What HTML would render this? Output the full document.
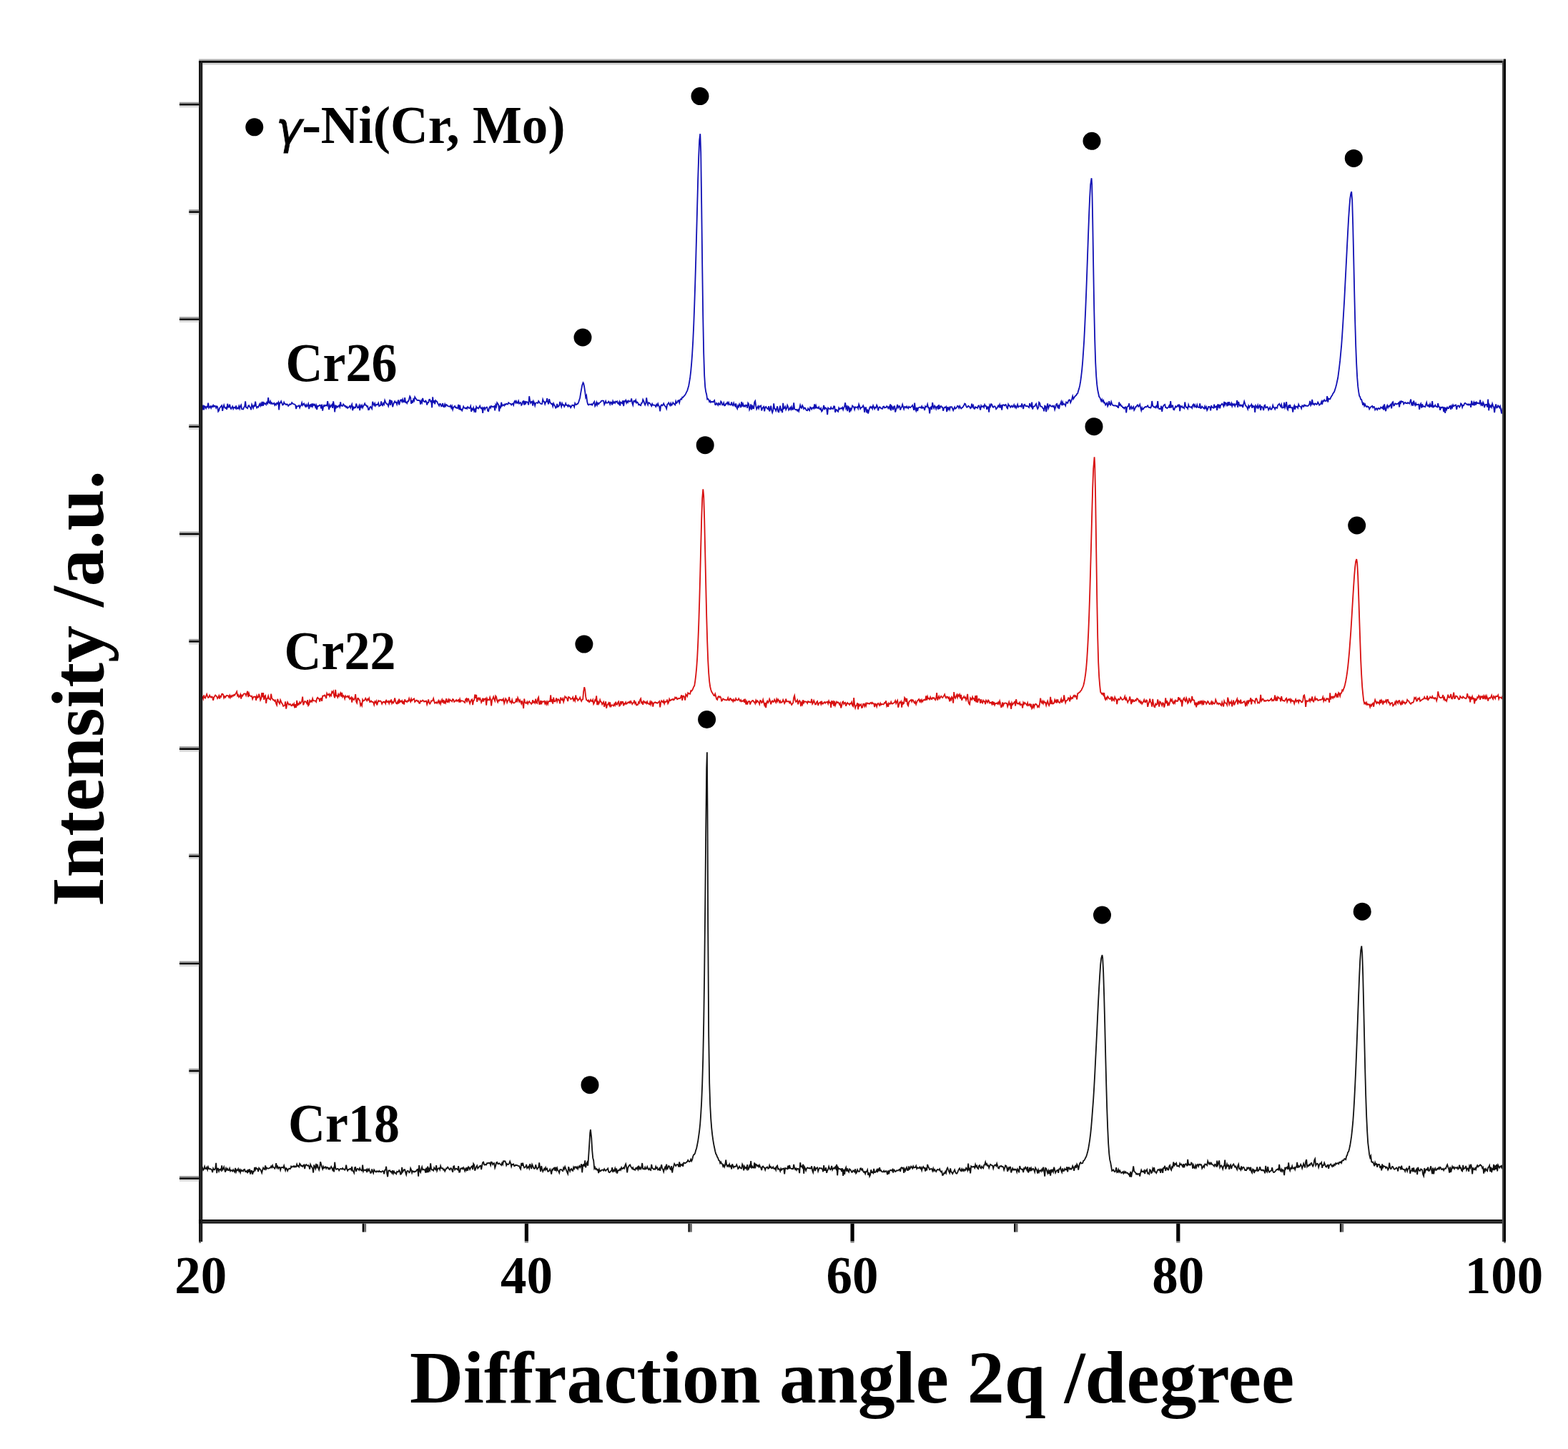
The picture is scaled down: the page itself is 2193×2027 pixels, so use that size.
<!DOCTYPE html><html><head><meta charset="utf-8"><title>XRD patterns</title><style>html,body{margin:0;padding:0;background:#fff;}svg{display:block}</style></head><body>
<svg width="2193" height="2027" viewBox="0 0 2193 2027">
<rect width="2193" height="2027" fill="#fff"/>
<path d="M282.2,569.1 L283.2,573.4 284.2,566.7 285.2,573.4 286.2,568.2 287.2,568.8 288.2,571.1 289.2,568.7 290.2,569.3 291.2,563.6 292.2,570.5 293.2,569.3 294.2,568.4 295.2,570.9 296.2,568.3 297.2,569.1 298.2,566.8 299.2,568.9 300.2,567.6 301.2,568.1 302.2,570.7 303.2,568.3 304.2,569.3 305.2,575.6 306.2,574.3 307.2,570.6 308.2,569.6 309.2,568.3 310.2,567.3 311.2,574.9 312.2,569.6 313.2,566.7 314.2,570.1 315.2,571.1 316.2,570.1 317.2,573.0 318.2,564.8 319.2,569.7 320.2,569.5 321.2,565.7 322.2,570.3 323.2,572.0 324.2,570.1 325.2,568.5 326.2,571.9 327.2,569.8 328.2,569.8 329.2,571.1 330.2,567.5 331.2,571.8 332.2,570.7 333.2,571.5 334.2,568.0 335.2,571.7 336.2,568.1 337.2,566.5 338.2,572.3 339.2,572.4 340.2,572.5 341.2,569.7 342.2,568.5 343.2,561.4 344.2,570.0 345.2,570.3 346.2,571.2 347.2,567.8 348.2,567.1 349.2,569.2 350.2,570.2 351.2,573.3 352.2,565.8 353.2,567.9 354.2,570.8 355.2,567.4 356.2,567.9 357.2,561.6 358.2,568.0 359.2,570.6 360.2,569.0 361.2,569.6 362.2,567.4 363.2,565.1 364.2,567.8 365.2,564.5 366.2,568.1 367.2,561.9 368.2,567.7 369.2,563.5 370.2,564.9 371.2,564.4 372.2,566.1 373.2,563.0 374.2,564.4 375.2,556.2 376.2,563.3 377.2,564.1 378.2,561.3 379.2,564.7 380.2,563.6 381.2,565.2 382.2,564.8 383.2,563.9 384.2,566.8 385.2,564.9 386.2,566.3 387.2,563.8 388.2,564.8 389.2,562.9 390.2,573.4 391.2,563.4 392.2,563.6 393.2,561.3 394.2,563.8 395.2,566.5 396.2,566.1 397.2,562.7 398.2,564.8 399.2,565.1 400.2,566.2 401.2,565.4 402.2,566.0 403.2,567.9 404.2,566.9 405.2,565.3 406.2,565.7 407.2,565.4 408.2,563.2 409.2,564.4 410.2,565.1 411.2,565.4 412.2,565.5 413.2,566.8 414.2,572.0 415.2,568.1 416.2,568.3 417.2,568.1 418.2,567.2 419.2,570.3 420.2,567.8 421.2,567.0 422.2,563.4 423.2,567.0 424.2,565.4 425.2,564.5 426.2,567.1 427.2,568.7 428.2,566.1 429.2,568.6 430.2,567.2 431.2,564.8 432.2,572.2 433.2,566.8 434.2,566.2 435.2,569.5 436.2,564.6 437.2,568.4 438.2,565.4 439.2,566.8 440.2,565.8 441.2,569.5 442.2,566.9 443.2,573.0 444.2,567.9 445.2,568.3 446.2,567.5 447.2,566.5 448.2,567.0 449.2,571.5 450.2,565.7 451.2,574.6 452.2,568.9 453.2,566.9 454.2,568.2 455.2,567.0 456.2,567.0 457.2,567.6 458.2,561.1 459.2,567.6 460.2,573.1 461.2,566.6 462.2,569.0 463.2,567.4 464.2,566.0 465.2,570.9 466.2,561.3 467.2,566.8 468.2,576.4 469.2,566.5 470.2,570.1 471.2,568.3 472.2,569.6 473.2,568.4 474.2,567.2 475.2,569.3 476.2,562.3 477.2,567.7 478.2,567.4 479.2,567.9 480.2,565.4 481.2,566.5 482.2,568.4 483.2,567.8 484.2,570.0 485.2,568.9 486.2,571.0 487.2,569.9 488.2,569.2 489.2,567.8 490.2,570.6 491.2,567.8 492.2,565.6 493.2,574.2 494.2,569.5 495.2,571.0 496.2,569.7 497.2,570.2 498.2,564.6 499.2,567.9 500.2,570.6 501.2,570.1 502.2,567.5 503.2,574.1 504.2,567.3 505.2,569.5 506.2,567.0 507.2,570.3 508.2,568.0 509.2,566.5 510.2,564.4 511.2,566.8 512.2,566.9 513.2,568.8 514.2,568.3 515.2,573.1 516.2,572.9 517.2,569.9 518.2,568.9 519.2,570.3 520.2,571.9 521.2,561.9 522.2,565.0 523.2,567.0 524.2,564.3 525.2,567.8 526.2,566.1 527.2,566.0 528.2,566.1 529.2,563.9 530.2,568.2 531.2,567.5 532.2,567.2 533.2,561.5 534.2,566.2 535.2,567.3 536.2,564.1 537.2,565.7 538.2,560.0 539.2,562.6 540.2,564.3 541.2,565.4 542.2,565.4 543.2,568.2 544.2,564.3 545.2,559.0 546.2,566.9 547.2,560.7 548.2,561.3 549.2,569.3 550.2,565.5 551.2,563.2 552.2,561.3 553.2,563.1 554.2,562.7 555.2,565.9 556.2,562.8 557.2,559.5 558.2,566.4 559.2,563.1 560.2,559.6 561.2,559.4 562.2,561.9 563.2,558.7 564.2,562.3 565.2,562.0 566.2,556.1 567.2,563.0 568.2,562.6 569.2,564.2 570.2,561.4 571.2,561.4 572.2,558.2 573.2,554.3 574.2,556.1 575.2,564.8 576.2,560.3 577.2,563.7 578.2,558.6 579.2,560.5 580.2,555.3 581.2,557.1 582.2,558.2 583.2,559.8 584.2,560.0 585.2,560.0 586.2,559.9 587.2,560.7 588.2,565.7 589.2,560.6 590.2,563.1 591.2,557.0 592.2,560.9 593.2,561.8 594.2,562.3 595.2,560.6 596.2,561.7 597.2,566.6 598.2,563.2 599.2,563.1 600.2,559.1 601.2,558.9 602.2,561.7 603.2,561.1 604.2,570.3 605.2,555.3 606.2,563.6 607.2,560.3 608.2,565.2 609.2,560.2 610.2,561.2 611.2,561.7 612.2,564.2 613.2,565.9 614.2,567.6 615.2,564.8 616.2,565.1 617.2,568.4 618.2,567.8 619.2,564.1 620.2,568.8 621.2,569.2 622.2,565.4 623.2,568.1 624.2,566.0 625.2,566.6 626.2,568.1 627.2,568.4 628.2,568.5 629.2,568.9 630.2,567.3 631.2,570.7 632.2,568.2 633.2,572.9 634.2,569.8 635.2,569.0 636.2,568.1 637.2,570.3 638.2,570.0 639.2,571.2 640.2,570.8 641.2,565.9 642.2,573.0 643.2,566.6 644.2,572.9 645.2,572.8 646.2,574.5 647.2,571.7 648.2,568.7 649.2,570.7 650.2,570.7 651.2,571.5 652.2,570.4 653.2,571.7 654.2,569.2 655.2,570.2 656.2,571.1 657.2,570.6 658.2,568.2 659.2,576.0 660.2,571.8 661.2,573.0 662.2,570.3 663.2,575.1 664.2,572.8 665.2,577.0 666.2,569.1 667.2,570.8 668.2,570.4 669.2,571.4 670.2,569.6 671.2,567.8 672.2,570.8 673.2,571.5 674.2,570.4 675.2,577.9 676.2,570.5 677.2,569.9 678.2,572.8 679.2,570.7 680.2,569.6 681.2,569.6 682.2,574.8 683.2,575.2 684.2,570.8 685.2,568.9 686.2,570.8 687.2,568.0 688.2,568.6 689.2,569.4 690.2,568.7 691.2,568.2 692.2,574.4 693.2,566.5 694.2,568.9 695.2,563.3 696.2,564.8 697.2,566.2 698.2,575.5 699.2,568.7 700.2,569.9 701.2,562.8 702.2,567.8 703.2,566.6 704.2,566.3 705.2,567.5 706.2,565.4 707.2,566.2 708.2,564.7 709.2,565.3 710.2,565.7 711.2,563.2 712.2,564.1 713.2,564.7 714.2,564.8 715.2,566.4 716.2,565.2 717.2,564.6 718.2,566.7 719.2,562.3 720.2,560.9 721.2,563.4 722.2,561.3 723.2,563.9 724.2,563.9 725.2,561.0 726.2,564.6 727.2,563.7 728.2,563.1 729.2,566.8 730.2,565.7 731.2,561.7 732.2,561.1 733.2,566.5 734.2,560.9 735.2,564.4 736.2,562.1 737.2,562.3 738.2,563.1 739.2,566.5 740.2,554.2 741.2,560.6 742.2,563.8 743.2,562.2 744.2,561.6 745.2,567.5 746.2,561.3 747.2,563.5 748.2,567.4 749.2,563.8 750.2,563.3 751.2,563.4 752.2,564.0 753.2,561.0 754.2,562.6 755.2,563.8 756.2,564.8 757.2,565.1 758.2,565.0 759.2,558.8 760.2,561.5 761.2,562.0 762.2,565.3 763.2,562.4 764.2,561.8 765.2,557.2 766.2,562.6 767.2,565.5 768.2,558.1 769.2,562.4 770.2,563.9 771.2,565.2 772.2,564.8 773.2,568.4 774.2,564.3 775.2,566.5 776.2,568.1 777.2,570.6 778.2,569.7 779.2,564.9 780.2,569.2 781.2,568.4 782.2,567.3 783.2,562.0 784.2,565.6 785.2,568.9 786.2,564.3 787.2,566.7 788.2,566.3 789.2,568.9 790.2,567.0 791.2,564.3 792.2,567.0 793.2,566.7 794.2,568.6 795.2,566.6 796.2,568.4 797.2,567.6 798.2,570.2 799.2,568.5 800.2,566.8 801.2,567.0 802.2,566.9 803.2,569.3 804.2,564.2 805.2,566.0 806.2,566.1 807.2,565.1 808.2,564.7 809.2,562.6 810.2,559.5 811.2,556.2 812.2,549.9 813.2,544.3 814.2,539.0 815.5,535.3 816.2,536.4 817.2,541.2 818.2,547.8 819.2,556.0 820.2,553.6 821.2,561.8 822.2,565.8 823.2,566.6 824.2,565.4 825.2,565.6 826.2,566.0 827.2,565.3 828.2,566.7 829.2,565.1 830.2,563.6 831.2,561.9 832.2,568.1 833.2,566.3 834.2,562.9 835.2,566.7 836.2,563.8 837.2,565.2 838.2,563.9 839.2,562.9 840.2,562.4 841.2,560.6 842.2,560.6 843.2,560.4 844.2,560.8 845.2,565.9 846.2,563.8 847.2,561.1 848.2,563.7 849.2,563.6 850.2,563.4 851.2,561.6 852.2,562.9 853.2,565.6 854.2,562.5 855.2,562.9 856.2,566.4 857.2,561.2 858.2,563.7 859.2,562.4 860.2,563.9 861.2,561.6 862.2,562.3 863.2,561.4 864.2,564.4 865.2,565.1 866.2,562.2 867.2,567.7 868.2,562.6 869.2,563.4 870.2,564.3 871.2,560.3 872.2,568.2 873.2,561.1 874.2,561.6 875.2,559.8 876.2,563.7 877.2,561.2 878.2,562.9 879.2,560.5 880.2,561.5 881.2,561.7 882.2,560.9 883.2,557.5 884.2,563.9 885.2,566.8 886.2,561.2 887.2,560.7 888.2,562.1 889.2,559.6 890.2,563.6 891.2,562.5 892.2,563.4 893.2,566.3 894.2,565.6 895.2,566.7 896.2,567.2 897.2,563.8 898.2,563.6 899.2,558.9 900.2,560.9 901.2,564.1 902.2,566.4 903.2,564.1 904.2,556.4 905.2,563.2 906.2,566.3 907.2,563.1 908.2,563.8 909.2,564.6 910.2,566.3 911.2,568.0 912.2,564.8 913.2,566.8 914.2,566.7 915.2,566.6 916.2,567.3 917.2,568.9 918.2,565.9 919.2,567.5 920.2,564.7 921.2,567.6 922.2,569.0 923.2,575.3 924.2,567.3 925.2,566.3 926.2,567.4 927.2,566.5 928.2,564.4 929.2,566.9 930.2,568.2 931.2,569.1 932.2,571.6 933.2,565.7 934.2,565.0 935.2,563.4 936.2,565.5 937.2,567.1 938.2,564.1 939.2,567.0 940.2,565.7 941.2,563.1 942.2,564.6 943.2,565.3 944.2,566.4 945.2,561.3 946.2,564.0 947.2,563.1 948.2,560.5 949.2,560.2 950.2,563.5 951.2,559.1 952.2,558.1 953.2,558.7 954.2,555.6 955.2,556.0 956.2,554.6 957.2,553.7 958.2,552.3 959.2,550.7 960.2,548.3 961.2,546.6 962.2,543.2 963.2,539.7 964.2,534.1 965.2,527.9 966.2,519.3 967.2,508.2 968.2,494.5 969.2,477.4 970.2,455.2 971.2,428.5 972.2,397.9 973.2,363.7 974.2,326.2 975.2,287.9 976.2,250.1 977.2,219.1 978.2,196.4 979.3,187.2 980.2,212.7 981.2,285.6 982.2,369.7 983.2,441.7 984.2,493.9 985.2,525.5 986.2,541.2 987.2,548.1 988.2,551.8 989.2,558.6 990.2,558.0 991.2,559.1 992.2,562.0 993.2,560.6 994.2,562.9 995.2,561.9 996.2,561.9 997.2,562.6 998.2,561.4 999.2,560.2 1000.2,566.1 1001.2,566.3 1002.2,563.9 1003.2,565.1 1004.2,566.8 1005.2,564.1 1006.2,565.7 1007.2,566.1 1008.2,561.5 1009.2,562.7 1010.2,566.4 1011.2,566.2 1012.2,563.5 1013.2,567.4 1014.2,567.2 1015.2,564.8 1016.2,564.9 1017.2,562.9 1018.2,565.5 1019.2,563.0 1020.2,566.0 1021.2,566.4 1022.2,566.3 1023.2,562.4 1024.2,566.6 1025.2,567.4 1026.2,563.8 1027.2,566.6 1028.2,568.1 1029.2,564.5 1030.2,569.6 1031.2,571.8 1032.2,567.4 1033.2,569.0 1034.2,565.3 1035.2,567.3 1036.2,570.1 1037.2,562.0 1038.2,568.5 1039.2,565.3 1040.2,568.5 1041.2,567.4 1042.2,568.7 1043.2,566.6 1044.2,566.9 1045.2,570.8 1046.2,563.7 1047.2,565.2 1048.2,573.1 1049.2,571.0 1050.2,565.4 1051.2,573.4 1052.2,566.8 1053.2,571.0 1054.2,571.3 1055.2,562.5 1056.2,560.9 1057.2,567.7 1058.2,572.4 1059.2,570.4 1060.2,568.4 1061.2,571.4 1062.2,568.2 1063.2,568.6 1064.2,567.6 1065.2,574.4 1066.2,571.5 1067.2,569.7 1068.2,568.8 1069.2,575.3 1070.2,569.9 1071.2,568.9 1072.2,570.3 1073.2,571.9 1074.2,572.4 1075.2,568.2 1076.2,575.5 1077.2,572.2 1078.2,567.6 1079.2,573.8 1080.2,577.2 1081.2,574.0 1082.2,564.4 1083.2,571.7 1084.2,572.2 1085.2,574.7 1086.2,571.9 1087.2,568.3 1088.2,575.7 1089.2,576.3 1090.2,571.8 1091.2,567.6 1092.2,574.0 1093.2,573.1 1094.2,577.3 1095.2,563.8 1096.2,571.6 1097.2,570.8 1098.2,568.9 1099.2,573.1 1100.2,571.1 1101.2,567.0 1102.2,569.4 1103.2,573.7 1104.2,572.3 1105.2,570.3 1106.2,572.8 1107.2,569.3 1108.2,572.7 1109.2,572.6 1110.2,563.3 1111.2,571.9 1112.2,573.0 1113.2,573.3 1114.2,572.9 1115.2,574.7 1116.2,573.2 1117.2,575.4 1118.2,571.5 1119.2,566.8 1120.2,569.9 1121.2,570.8 1122.2,567.2 1123.2,569.0 1124.2,572.0 1125.2,570.6 1126.2,570.8 1127.2,573.1 1128.2,574.2 1129.2,574.3 1130.2,571.3 1131.2,572.9 1132.2,574.2 1133.2,569.6 1134.2,570.1 1135.2,572.5 1136.2,570.7 1137.2,570.1 1138.2,571.3 1139.2,565.3 1140.2,571.6 1141.2,567.4 1142.2,570.5 1143.2,570.3 1144.2,571.1 1145.2,569.3 1146.2,571.8 1147.2,572.8 1148.2,571.1 1149.2,575.5 1150.2,574.3 1151.2,570.9 1152.2,566.9 1153.2,573.2 1154.2,570.3 1155.2,570.9 1156.2,572.0 1157.2,580.2 1158.2,570.6 1159.2,571.4 1160.2,572.0 1161.2,572.3 1162.2,569.8 1163.2,571.8 1164.2,571.5 1165.2,572.0 1166.2,568.4 1167.2,568.6 1168.2,576.9 1169.2,573.1 1170.2,573.1 1171.2,574.9 1172.2,575.8 1173.2,570.5 1174.2,572.3 1175.2,571.5 1176.2,571.1 1177.2,571.6 1178.2,569.9 1179.2,573.2 1180.2,570.3 1181.2,568.3 1182.2,563.3 1183.2,571.2 1184.2,569.0 1185.2,575.1 1186.2,568.6 1187.2,569.5 1188.2,576.9 1189.2,570.4 1190.2,573.8 1191.2,571.8 1192.2,567.5 1193.2,568.6 1194.2,569.6 1195.2,572.8 1196.2,569.3 1197.2,569.8 1198.2,569.9 1199.2,569.1 1200.2,571.5 1201.2,565.7 1202.2,568.4 1203.2,571.9 1204.2,570.4 1205.2,569.9 1206.2,569.3 1207.2,567.3 1208.2,569.7 1209.2,576.8 1210.2,570.3 1211.2,570.2 1212.2,577.3 1213.2,572.7 1214.2,578.5 1215.2,574.4 1216.2,570.6 1217.2,568.9 1218.2,570.4 1219.2,569.2 1220.2,571.7 1221.2,567.4 1222.2,569.7 1223.2,572.0 1224.2,569.7 1225.2,570.3 1226.2,566.8 1227.2,568.8 1228.2,574.4 1229.2,570.6 1230.2,569.3 1231.2,569.9 1232.2,571.4 1233.2,571.5 1234.2,571.9 1235.2,568.8 1236.2,568.5 1237.2,570.5 1238.2,570.0 1239.2,570.1 1240.2,568.2 1241.2,569.0 1242.2,571.2 1243.2,569.2 1244.2,571.2 1245.2,565.3 1246.2,574.3 1247.2,568.2 1248.2,569.8 1249.2,573.4 1250.2,568.6 1251.2,568.4 1252.2,576.6 1253.2,573.0 1254.2,570.0 1255.2,565.9 1256.2,570.3 1257.2,568.5 1258.2,568.2 1259.2,573.6 1260.2,570.4 1261.2,569.6 1262.2,565.9 1263.2,569.3 1264.2,572.3 1265.2,568.9 1266.2,569.0 1267.2,570.3 1268.2,568.5 1269.2,570.1 1270.2,571.3 1271.2,568.8 1272.2,569.7 1273.2,570.1 1274.2,569.2 1275.2,568.3 1276.2,567.0 1277.2,570.1 1278.2,573.8 1279.2,563.6 1280.2,572.3 1281.2,574.7 1282.2,570.0 1283.2,575.0 1284.2,570.8 1285.2,570.0 1286.2,569.7 1287.2,569.7 1288.2,570.7 1289.2,568.4 1290.2,570.9 1291.2,569.8 1292.2,570.6 1293.2,573.9 1294.2,568.4 1295.2,569.4 1296.2,568.7 1297.2,565.5 1298.2,570.3 1299.2,570.4 1300.2,578.4 1301.2,570.2 1302.2,569.4 1303.2,572.9 1304.2,563.2 1305.2,568.8 1306.2,571.1 1307.2,567.6 1308.2,569.2 1309.2,572.1 1310.2,569.1 1311.2,568.4 1312.2,572.7 1313.2,566.2 1314.2,572.1 1315.2,568.9 1316.2,568.1 1317.2,569.7 1318.2,569.7 1319.2,574.8 1320.2,571.1 1321.2,569.6 1322.2,570.0 1323.2,568.9 1324.2,576.1 1325.2,569.3 1326.2,572.5 1327.2,570.5 1328.2,573.1 1329.2,569.1 1330.2,569.4 1331.2,569.2 1332.2,571.7 1333.2,574.2 1334.2,571.7 1335.2,569.5 1336.2,571.8 1337.2,570.9 1338.2,569.8 1339.2,567.8 1340.2,568.3 1341.2,570.7 1342.2,568.0 1343.2,570.0 1344.2,571.5 1345.2,570.4 1346.2,570.2 1347.2,568.4 1348.2,567.0 1349.2,564.6 1350.2,565.2 1351.2,568.2 1352.2,569.8 1353.2,569.2 1354.2,567.8 1355.2,568.5 1356.2,569.3 1357.2,571.1 1358.2,570.0 1359.2,564.6 1360.2,569.2 1361.2,567.3 1362.2,571.5 1363.2,571.9 1364.2,569.3 1365.2,570.2 1366.2,569.9 1367.2,570.8 1368.2,567.8 1369.2,567.4 1370.2,570.1 1371.2,573.5 1372.2,567.3 1373.2,569.0 1374.2,568.8 1375.2,568.0 1376.2,569.9 1377.2,566.0 1378.2,567.9 1379.2,568.1 1380.2,572.8 1381.2,569.2 1382.2,569.3 1383.2,576.7 1384.2,566.7 1385.2,568.6 1386.2,565.2 1387.2,565.9 1388.2,568.9 1389.2,569.9 1390.2,568.5 1391.2,568.2 1392.2,569.4 1393.2,572.3 1394.2,571.3 1395.2,569.5 1396.2,567.4 1397.2,569.0 1398.2,566.1 1399.2,570.6 1400.2,566.4 1401.2,573.6 1402.2,566.6 1403.2,566.3 1404.2,566.8 1405.2,567.5 1406.2,565.9 1407.2,566.5 1408.2,570.4 1409.2,571.4 1410.2,565.6 1411.2,567.5 1412.2,567.5 1413.2,569.8 1414.2,568.6 1415.2,567.5 1416.2,569.5 1417.2,568.4 1418.2,566.3 1419.2,569.6 1420.2,567.9 1421.2,570.8 1422.2,568.8 1423.2,565.8 1424.2,569.4 1425.2,568.4 1426.2,568.3 1427.2,567.8 1428.2,568.9 1429.2,564.4 1430.2,568.2 1431.2,572.0 1432.2,566.6 1433.2,565.9 1434.2,567.9 1435.2,568.4 1436.2,567.8 1437.2,568.3 1438.2,569.1 1439.2,570.0 1440.2,564.2 1441.2,567.9 1442.2,568.9 1443.2,562.6 1444.2,572.6 1445.2,569.0 1446.2,568.4 1447.2,568.3 1448.2,566.2 1449.2,564.8 1450.2,569.3 1451.2,571.9 1452.2,570.1 1453.2,562.8 1454.2,563.9 1455.2,568.5 1456.2,568.7 1457.2,568.9 1458.2,570.9 1459.2,571.3 1460.2,575.3 1461.2,567.7 1462.2,568.3 1463.2,576.1 1464.2,569.2 1465.2,564.5 1466.2,571.3 1467.2,568.7 1468.2,566.5 1469.2,567.5 1470.2,568.4 1471.2,568.7 1472.2,567.7 1473.2,569.1 1474.2,568.0 1475.2,572.9 1476.2,569.8 1477.2,565.6 1478.2,564.9 1479.2,569.5 1480.2,567.7 1481.2,572.1 1482.2,566.6 1483.2,564.8 1484.2,562.0 1485.2,567.2 1486.2,562.7 1487.2,565.8 1488.2,565.1 1489.2,565.6 1490.2,567.5 1491.2,562.6 1492.2,563.3 1493.2,563.9 1494.2,561.0 1495.2,559.4 1496.2,559.4 1497.2,563.3 1498.2,561.0 1499.2,558.0 1500.2,554.2 1501.2,558.0 1502.2,556.2 1503.2,554.9 1504.2,553.6 1505.2,553.0 1506.2,551.0 1507.2,550.5 1508.2,546.6 1509.2,543.6 1510.2,539.4 1511.2,533.7 1512.2,526.2 1513.2,517.3 1514.2,506.1 1515.2,491.5 1516.2,476.5 1517.2,456.1 1518.2,434.1 1519.2,409.1 1520.2,382.0 1521.2,353.3 1522.2,324.8 1523.2,298.2 1524.2,275.0 1525.2,258.2 1526.6,249.2 1527.2,257.9 1528.2,307.7 1529.2,371.6 1530.2,430.9 1531.2,475.3 1532.2,507.1 1533.2,526.0 1534.2,537.9 1535.2,545.5 1536.2,550.3 1537.2,555.0 1538.2,555.9 1539.2,558.5 1540.2,561.1 1541.2,558.7 1542.2,561.7 1543.2,560.2 1544.2,563.6 1545.2,563.4 1546.2,566.5 1547.2,565.0 1548.2,563.7 1549.2,568.2 1550.2,566.0 1551.2,561.1 1552.2,565.7 1553.2,566.6 1554.2,562.1 1555.2,565.2 1556.2,566.7 1557.2,567.1 1558.2,567.7 1559.2,567.1 1560.2,567.3 1561.2,568.1 1562.2,567.7 1563.2,569.7 1564.2,570.0 1565.2,562.5 1566.2,566.6 1567.2,565.8 1568.2,568.1 1569.2,568.2 1570.2,570.1 1571.2,570.0 1572.2,571.6 1573.2,569.8 1574.2,569.4 1575.2,577.3 1576.2,569.7 1577.2,568.6 1578.2,568.2 1579.2,564.3 1580.2,573.2 1581.2,570.5 1582.2,568.7 1583.2,571.8 1584.2,570.6 1585.2,569.1 1586.2,573.8 1587.2,572.2 1588.2,569.1 1589.2,569.1 1590.2,567.1 1591.2,566.4 1592.2,568.8 1593.2,567.8 1594.2,565.7 1595.2,570.6 1596.2,574.2 1597.2,570.3 1598.2,572.6 1599.2,572.0 1600.2,570.1 1601.2,569.6 1602.2,568.9 1603.2,569.5 1604.2,568.7 1605.2,567.5 1606.2,569.5 1607.2,570.3 1608.2,569.9 1609.2,570.7 1610.2,568.8 1611.2,561.0 1612.2,567.9 1613.2,568.5 1614.2,569.8 1615.2,569.1 1616.2,570.3 1617.2,568.1 1618.2,569.5 1619.2,561.1 1620.2,570.5 1621.2,572.1 1622.2,572.0 1623.2,572.2 1624.2,567.8 1625.2,575.8 1626.2,569.8 1627.2,567.7 1628.2,566.4 1629.2,565.9 1630.2,570.2 1631.2,570.2 1632.2,571.2 1633.2,570.3 1634.2,569.7 1635.2,567.5 1636.2,570.8 1637.2,561.1 1638.2,570.4 1639.2,567.5 1640.2,567.5 1641.2,572.8 1642.2,573.3 1643.2,570.7 1644.2,568.2 1645.2,569.5 1646.2,568.9 1647.2,566.9 1648.2,568.2 1649.2,565.6 1650.2,575.1 1651.2,568.2 1652.2,569.2 1653.2,568.3 1654.2,570.3 1655.2,569.9 1656.2,571.1 1657.2,562.5 1658.2,567.9 1659.2,570.0 1660.2,569.9 1661.2,571.6 1662.2,566.2 1663.2,569.1 1664.2,569.2 1665.2,569.7 1666.2,569.0 1667.2,570.8 1668.2,566.7 1669.2,565.6 1670.2,568.7 1671.2,566.4 1672.2,569.2 1673.2,569.9 1674.2,566.3 1675.2,569.5 1676.2,569.8 1677.2,569.9 1678.2,564.3 1679.2,571.1 1680.2,570.7 1681.2,568.6 1682.2,569.5 1683.2,570.8 1684.2,571.7 1685.2,568.3 1686.2,571.1 1687.2,569.3 1688.2,574.0 1689.2,572.2 1690.2,569.0 1691.2,569.0 1692.2,569.5 1693.2,574.4 1694.2,567.2 1695.2,569.8 1696.2,570.2 1697.2,570.7 1698.2,565.8 1699.2,569.9 1700.2,569.1 1701.2,568.3 1702.2,574.0 1703.2,565.4 1704.2,568.9 1705.2,565.8 1706.2,571.3 1707.2,566.7 1708.2,566.1 1709.2,564.7 1710.2,565.9 1711.2,568.1 1712.2,562.0 1713.2,566.5 1714.2,563.5 1715.2,564.4 1716.2,568.3 1717.2,562.4 1718.2,567.3 1719.2,562.1 1720.2,566.3 1721.2,566.8 1722.2,564.1 1723.2,568.2 1724.2,565.0 1725.2,566.5 1726.2,565.3 1727.2,568.1 1728.2,565.5 1729.2,565.7 1730.2,560.0 1731.2,570.0 1732.2,562.0 1733.2,566.3 1734.2,567.9 1735.2,566.5 1736.2,567.7 1737.2,566.8 1738.2,570.1 1739.2,565.4 1740.2,561.5 1741.2,564.7 1742.2,567.8 1743.2,568.2 1744.2,569.9 1745.2,572.4 1746.2,567.6 1747.2,570.0 1748.2,567.8 1749.2,567.7 1750.2,565.8 1751.2,570.8 1752.2,567.6 1753.2,569.1 1754.2,568.5 1755.2,576.9 1756.2,567.3 1757.2,568.8 1758.2,570.3 1759.2,566.9 1760.2,570.7 1761.2,569.0 1762.2,565.9 1763.2,574.0 1764.2,568.6 1765.2,568.9 1766.2,570.6 1767.2,574.0 1768.2,567.8 1769.2,566.8 1770.2,570.5 1771.2,570.1 1772.2,569.1 1773.2,570.0 1774.2,573.4 1775.2,571.6 1776.2,569.8 1777.2,572.7 1778.2,572.8 1779.2,571.1 1780.2,567.0 1781.2,569.9 1782.2,570.2 1783.2,572.4 1784.2,569.9 1785.2,570.3 1786.2,570.9 1787.2,566.7 1788.2,566.0 1789.2,564.9 1790.2,567.2 1791.2,568.8 1792.2,565.9 1793.2,570.5 1794.2,570.4 1795.2,570.0 1796.2,562.9 1797.2,570.3 1798.2,567.8 1799.2,562.1 1800.2,571.9 1801.2,573.3 1802.2,566.7 1803.2,570.8 1804.2,566.0 1805.2,570.2 1806.2,570.3 1807.2,570.1 1808.2,576.7 1809.2,570.0 1810.2,567.5 1811.2,572.9 1812.2,568.4 1813.2,569.3 1814.2,568.8 1815.2,570.7 1816.2,565.8 1817.2,568.2 1818.2,568.5 1819.2,568.9 1820.2,571.4 1821.2,567.4 1822.2,567.6 1823.2,568.8 1824.2,566.5 1825.2,567.8 1826.2,566.9 1827.2,568.0 1828.2,567.7 1829.2,568.0 1830.2,566.8 1831.2,565.7 1832.2,560.9 1833.2,567.0 1834.2,565.1 1835.2,558.9 1836.2,565.5 1837.2,564.8 1838.2,566.3 1839.2,564.5 1840.2,564.6 1841.2,565.8 1842.2,565.3 1843.2,562.6 1844.2,564.3 1845.2,566.7 1846.2,565.9 1847.2,564.8 1848.2,561.9 1849.2,565.9 1850.2,560.7 1851.2,561.3 1852.2,559.3 1853.2,561.0 1854.2,561.1 1855.2,560.4 1856.2,554.2 1857.2,562.6 1858.2,557.5 1859.2,558.0 1860.2,558.3 1861.2,556.2 1862.2,554.3 1863.2,553.0 1864.2,550.6 1865.2,549.4 1866.2,547.8 1867.2,544.8 1868.2,541.6 1869.2,537.8 1870.2,533.0 1871.2,528.5 1872.2,520.9 1873.2,513.0 1874.2,504.4 1875.2,493.6 1876.2,482.9 1877.2,468.7 1878.2,453.3 1879.2,436.5 1880.2,419.7 1881.2,400.1 1882.2,380.5 1883.2,361.0 1884.2,341.1 1885.2,322.4 1886.2,304.3 1887.2,290.1 1888.2,278.2 1889.2,271.3 1890.2,268.1 1891.2,280.8 1892.2,315.4 1893.2,360.1 1894.2,406.9 1895.2,449.2 1896.2,483.9 1897.2,509.1 1898.2,527.9 1899.2,540.4 1900.2,548.2 1901.2,553.8 1902.2,555.2 1903.2,558.7 1904.2,559.0 1905.2,562.7 1906.2,566.8 1907.2,563.1 1908.2,567.8 1909.2,565.6 1910.2,568.0 1911.2,569.2 1912.2,568.2 1913.2,569.2 1914.2,569.1 1915.2,572.3 1916.2,570.6 1917.2,569.2 1918.2,568.8 1919.2,568.0 1920.2,570.2 1921.2,569.0 1922.2,569.2 1923.2,573.3 1924.2,571.8 1925.2,571.2 1926.2,573.2 1927.2,571.4 1928.2,570.9 1929.2,572.2 1930.2,571.8 1931.2,569.6 1932.2,570.2 1933.2,571.0 1934.2,568.9 1935.2,573.5 1936.2,565.4 1937.2,572.2 1938.2,575.2 1939.2,569.5 1940.2,567.1 1941.2,570.2 1942.2,567.9 1943.2,568.8 1944.2,566.7 1945.2,565.7 1946.2,571.3 1947.2,563.1 1948.2,562.2 1949.2,567.5 1950.2,567.1 1951.2,564.4 1952.2,564.5 1953.2,565.6 1954.2,564.8 1955.2,564.7 1956.2,563.5 1957.2,569.5 1958.2,560.8 1959.2,563.5 1960.2,561.2 1961.2,562.1 1962.2,562.0 1963.2,565.2 1964.2,563.7 1965.2,562.9 1966.2,564.0 1967.2,563.9 1968.2,564.4 1969.2,563.1 1970.2,564.1 1971.2,564.7 1972.2,561.7 1973.2,558.6 1974.2,565.9 1975.2,564.1 1976.2,567.7 1977.2,560.5 1978.2,564.8 1979.2,567.1 1980.2,564.1 1981.2,566.5 1982.2,565.9 1983.2,565.8 1984.2,565.6 1985.2,572.9 1986.2,566.4 1987.2,564.6 1988.2,570.7 1989.2,565.3 1990.2,568.7 1991.2,568.3 1992.2,568.8 1993.2,569.3 1994.2,565.9 1995.2,563.0 1996.2,567.7 1997.2,567.9 1998.2,566.7 1999.2,570.1 2000.2,565.4 2001.2,568.4 2002.2,568.6 2003.2,561.0 2004.2,570.5 2005.2,568.1 2006.2,568.6 2007.2,566.7 2008.2,568.5 2009.2,568.8 2010.2,569.5 2011.2,564.2 2012.2,569.0 2013.2,569.3 2014.2,573.9 2015.2,569.9 2016.2,570.4 2017.2,569.4 2018.2,569.7 2019.2,576.1 2020.2,569.4 2021.2,578.0 2022.2,570.1 2023.2,572.9 2024.2,569.7 2025.2,571.2 2026.2,571.1 2027.2,568.5 2028.2,568.1 2029.2,572.8 2030.2,567.9 2031.2,570.1 2032.2,566.4 2033.2,568.3 2034.2,567.6 2035.2,566.9 2036.2,566.5 2037.2,572.9 2038.2,568.5 2039.2,567.4 2040.2,567.8 2041.2,569.6 2042.2,568.1 2043.2,564.5 2044.2,565.4 2045.2,569.8 2046.2,567.0 2047.2,567.0 2048.2,564.4 2049.2,563.9 2050.2,564.7 2051.2,565.3 2052.2,566.3 2053.2,565.4 2054.2,566.6 2055.2,565.4 2056.2,565.6 2057.2,569.9 2058.2,560.6 2059.2,565.8 2060.2,566.3 2061.2,563.0 2062.2,567.3 2063.2,562.1 2064.2,566.4 2065.2,562.7 2066.2,564.1 2067.2,563.8 2068.2,564.4 2069.2,564.7 2070.2,559.4 2071.2,566.1 2072.2,564.5 2073.2,568.1 2074.2,562.8 2075.2,564.9 2076.2,570.0 2077.2,566.2 2078.2,565.8 2079.2,565.9 2080.2,569.6 2081.2,558.5 2082.2,574.3 2083.2,566.8 2084.2,569.1 2085.2,567.3 2086.2,569.7 2087.2,564.8 2088.2,567.8 2089.2,569.8 2090.2,577.2 2091.2,568.8 2092.2,565.4 2093.2,570.5 2094.2,570.1 2095.2,567.4 2096.2,568.3 2097.2,570.2 2098.2,568.3 2099.2,574.0 2100.2,578.5 2101.2,572.4 2102.2,573.4" fill="none" stroke="#1010b4" stroke-width="1.8" stroke-linejoin="miter"/>
<path d="M282.2,974.5 L283.2,974.7 284.2,977.6 285.2,972.4 286.2,975.9 287.2,976.6 288.2,973.5 289.2,971.1 290.2,974.1 291.2,975.9 292.2,975.3 293.2,972.7 294.2,974.6 295.2,975.6 296.2,974.5 297.2,975.3 298.2,979.8 299.2,975.4 300.2,974.0 301.2,972.5 302.2,973.6 303.2,974.3 304.2,977.1 305.2,975.6 306.2,973.2 307.2,977.5 308.2,973.8 309.2,974.7 310.2,970.8 311.2,970.7 312.2,971.8 313.2,976.3 314.2,974.3 315.2,975.6 316.2,973.9 317.2,972.8 318.2,973.2 319.2,973.4 320.2,975.4 321.2,972.7 322.2,975.8 323.2,973.3 324.2,974.8 325.2,972.7 326.2,973.6 327.2,971.9 328.2,972.7 329.2,970.9 330.2,969.4 331.2,967.5 332.2,973.4 333.2,972.2 334.2,975.3 335.2,974.3 336.2,971.7 337.2,977.7 338.2,972.5 339.2,973.5 340.2,971.7 341.2,970.4 342.2,970.3 343.2,970.5 344.2,973.1 345.2,969.9 346.2,966.8 347.2,975.2 348.2,970.1 349.2,973.2 350.2,973.5 351.2,974.2 352.2,973.8 353.2,977.9 354.2,975.4 355.2,974.6 356.2,974.9 357.2,974.6 358.2,979.8 359.2,973.4 360.2,976.0 361.2,975.5 362.2,970.7 363.2,974.6 364.2,979.5 365.2,977.6 366.2,969.2 367.2,975.4 368.2,969.1 369.2,978.9 370.2,974.1 371.2,973.1 372.2,983.8 373.2,977.4 374.2,977.0 375.2,973.6 376.2,977.7 377.2,977.8 378.2,978.7 379.2,970.7 380.2,976.8 381.2,977.8 382.2,979.5 383.2,979.1 384.2,980.9 385.2,979.7 386.2,984.4 387.2,986.4 388.2,977.8 389.2,980.5 390.2,982.8 391.2,984.4 392.2,979.3 393.2,981.7 394.2,983.8 395.2,985.1 396.2,987.8 397.2,987.5 398.2,987.0 399.2,981.3 400.2,991.6 401.2,986.3 402.2,982.4 403.2,984.4 404.2,986.1 405.2,985.0 406.2,985.1 407.2,987.1 408.2,987.2 409.2,985.2 410.2,986.6 411.2,984.5 412.2,990.4 413.2,985.1 414.2,989.8 415.2,979.8 416.2,987.1 417.2,984.5 418.2,985.2 419.2,982.2 420.2,984.1 421.2,982.7 422.2,980.6 423.2,974.7 424.2,986.3 425.2,983.7 426.2,981.0 427.2,981.3 428.2,982.2 429.2,984.1 430.2,979.2 431.2,987.0 432.2,985.7 433.2,980.0 434.2,981.8 435.2,980.3 436.2,981.7 437.2,977.2 438.2,980.2 439.2,980.4 440.2,980.3 441.2,980.3 442.2,981.9 443.2,977.1 444.2,975.8 445.2,977.1 446.2,977.4 447.2,981.6 448.2,977.3 449.2,977.0 450.2,980.9 451.2,973.7 452.2,973.2 453.2,973.7 454.2,972.5 455.2,973.8 456.2,977.1 457.2,969.9 458.2,971.8 459.2,972.1 460.2,970.8 461.2,973.9 462.2,971.6 463.2,973.1 464.2,967.6 465.2,968.9 466.2,967.0 467.2,973.2 468.2,976.3 469.2,964.8 470.2,973.4 471.2,973.2 472.2,975.5 473.2,971.3 474.2,973.8 475.2,971.5 476.2,969.5 477.2,974.6 478.2,968.9 479.2,974.8 480.2,973.0 481.2,974.2 482.2,977.4 483.2,973.4 484.2,974.9 485.2,974.6 486.2,973.7 487.2,975.7 488.2,974.1 489.2,978.0 490.2,977.0 491.2,975.7 492.2,982.6 493.2,976.6 494.2,978.3 495.2,979.0 496.2,976.8 497.2,971.1 498.2,981.5 499.2,983.4 500.2,976.9 501.2,976.9 502.2,979.0 503.2,979.9 504.2,986.9 505.2,984.7 506.2,987.0 507.2,978.7 508.2,980.6 509.2,980.1 510.2,979.0 511.2,976.8 512.2,978.7 513.2,980.3 514.2,977.8 515.2,979.0 516.2,976.8 517.2,982.1 518.2,981.7 519.2,980.5 520.2,982.0 521.2,981.7 522.2,982.8 523.2,986.0 524.2,981.5 525.2,982.9 526.2,980.7 527.2,986.4 528.2,982.9 529.2,980.2 530.2,981.2 531.2,980.4 532.2,980.6 533.2,981.7 534.2,984.7 535.2,982.6 536.2,981.7 537.2,982.5 538.2,981.7 539.2,984.1 540.2,978.8 541.2,981.9 542.2,982.0 543.2,980.9 544.2,984.0 545.2,980.8 546.2,981.7 547.2,978.5 548.2,983.9 549.2,981.9 550.2,983.2 551.2,980.8 552.2,976.4 553.2,981.5 554.2,983.8 555.2,984.4 556.2,981.5 557.2,984.4 558.2,977.7 559.2,982.1 560.2,980.7 561.2,981.6 562.2,980.2 563.2,984.6 564.2,980.6 565.2,985.7 566.2,978.4 567.2,981.0 568.2,980.9 569.2,982.1 570.2,980.2 571.2,980.8 572.2,977.0 573.2,979.7 574.2,981.7 575.2,977.5 576.2,980.2 577.2,978.8 578.2,978.0 579.2,977.4 580.2,981.9 581.2,980.9 582.2,979.6 583.2,979.7 584.2,981.3 585.2,980.7 586.2,983.7 587.2,983.8 588.2,980.3 589.2,981.2 590.2,980.7 591.2,979.6 592.2,980.4 593.2,981.7 594.2,980.9 595.2,981.3 596.2,980.7 597.2,985.3 598.2,982.4 599.2,978.4 600.2,982.9 601.2,984.5 602.2,983.0 603.2,980.4 604.2,980.6 605.2,979.9 606.2,977.1 607.2,981.2 608.2,983.7 609.2,982.9 610.2,982.2 611.2,983.8 612.2,982.3 613.2,980.1 614.2,983.5 615.2,981.1 616.2,984.7 617.2,981.0 618.2,978.6 619.2,983.1 620.2,978.9 621.2,984.4 622.2,981.4 623.2,983.2 624.2,977.2 625.2,981.6 626.2,982.2 627.2,978.7 628.2,981.6 629.2,978.7 630.2,980.0 631.2,980.2 632.2,981.3 633.2,978.1 634.2,978.6 635.2,982.0 636.2,981.4 637.2,980.1 638.2,979.1 639.2,981.0 640.2,979.8 641.2,979.0 642.2,982.5 643.2,978.1 644.2,981.5 645.2,980.2 646.2,980.3 647.2,980.5 648.2,980.9 649.2,982.2 650.2,983.0 651.2,978.1 652.2,977.2 653.2,982.3 654.2,977.5 655.2,977.6 656.2,980.9 657.2,984.2 658.2,981.3 659.2,979.1 660.2,978.4 661.2,986.1 662.2,980.1 663.2,979.4 664.2,971.5 665.2,976.9 666.2,971.8 667.2,981.8 668.2,977.1 669.2,976.4 670.2,978.8 671.2,976.7 672.2,978.5 673.2,982.7 674.2,980.7 675.2,976.8 676.2,981.5 677.2,977.7 678.2,978.1 679.2,977.2 680.2,986.7 681.2,977.2 682.2,979.4 683.2,978.8 684.2,979.3 685.2,975.5 686.2,978.7 687.2,987.3 688.2,979.0 689.2,977.1 690.2,974.7 691.2,978.3 692.2,980.5 693.2,973.5 694.2,974.9 695.2,980.2 696.2,982.3 697.2,979.4 698.2,980.3 699.2,978.6 700.2,978.8 701.2,979.9 702.2,978.5 703.2,980.0 704.2,977.9 705.2,983.9 706.2,981.1 707.2,977.3 708.2,978.7 709.2,982.7 710.2,980.1 711.2,979.5 712.2,975.0 713.2,981.8 714.2,981.3 715.2,983.3 716.2,979.1 717.2,982.6 718.2,983.3 719.2,983.4 720.2,982.7 721.2,981.3 722.2,977.1 723.2,982.3 724.2,976.1 725.2,978.5 726.2,981.5 727.2,979.3 728.2,981.9 729.2,984.4 730.2,980.2 731.2,984.0 732.2,991.0 733.2,977.5 734.2,982.2 735.2,983.6 736.2,983.8 737.2,981.6 738.2,984.6 739.2,982.3 740.2,981.1 741.2,982.9 742.2,983.3 743.2,984.9 744.2,983.4 745.2,979.2 746.2,982.8 747.2,981.7 748.2,983.4 749.2,977.7 750.2,983.0 751.2,983.8 752.2,977.3 753.2,975.4 754.2,984.9 755.2,984.9 756.2,979.9 757.2,985.3 758.2,981.3 759.2,981.7 760.2,981.5 761.2,980.7 762.2,984.2 763.2,981.8 764.2,985.1 765.2,981.8 766.2,984.8 767.2,981.2 768.2,980.9 769.2,981.2 770.2,972.4 771.2,982.2 772.2,978.1 773.2,984.6 774.2,975.7 775.2,981.1 776.2,981.4 777.2,980.0 778.2,976.5 779.2,981.4 780.2,978.5 781.2,978.2 782.2,980.0 783.2,984.4 784.2,975.6 785.2,978.4 786.2,979.3 787.2,977.2 788.2,981.8 789.2,978.5 790.2,974.4 791.2,975.7 792.2,975.5 793.2,977.7 794.2,981.1 795.2,975.0 796.2,975.6 797.2,976.2 798.2,978.2 799.2,977.6 800.2,977.5 801.2,975.5 802.2,979.8 803.2,977.8 804.2,980.3 805.2,972.5 806.2,977.6 807.2,977.2 808.2,980.0 809.2,978.7 810.2,977.9 811.2,975.7 812.2,978.8 813.2,980.8 814.2,978.6 815.2,978.2 816.2,967.1 817.3,961.1 818.2,964.8 819.2,974.7 820.2,979.3 821.2,979.5 822.2,980.9 823.2,979.6 824.2,982.1 825.2,980.9 826.2,978.8 827.2,980.7 828.2,981.2 829.2,979.0 830.2,984.8 831.2,982.9 832.2,979.0 833.2,980.0 834.2,973.3 835.2,986.1 836.2,980.4 837.2,984.7 838.2,982.9 839.2,979.0 840.2,981.7 841.2,982.3 842.2,985.3 843.2,983.5 844.2,982.0 845.2,988.8 846.2,984.9 847.2,981.3 848.2,990.9 849.2,986.3 850.2,985.3 851.2,983.3 852.2,986.5 853.2,982.3 854.2,989.3 855.2,986.6 856.2,986.2 857.2,986.5 858.2,987.4 859.2,984.7 860.2,986.6 861.2,981.8 862.2,985.5 863.2,985.7 864.2,982.7 865.2,981.4 866.2,987.5 867.2,986.9 868.2,981.0 869.2,984.2 870.2,981.8 871.2,981.9 872.2,987.3 873.2,984.2 874.2,984.8 875.2,982.3 876.2,984.8 877.2,984.0 878.2,982.4 879.2,983.0 880.2,981.7 881.2,983.3 882.2,981.0 883.2,982.6 884.2,985.0 885.2,983.3 886.2,983.0 887.2,979.6 888.2,984.3 889.2,982.8 890.2,986.5 891.2,986.0 892.2,985.8 893.2,982.1 894.2,983.4 895.2,978.9 896.2,977.3 897.2,983.3 898.2,982.4 899.2,985.8 900.2,980.7 901.2,981.6 902.2,983.3 903.2,982.2 904.2,984.1 905.2,981.5 906.2,984.2 907.2,984.5 908.2,985.3 909.2,981.9 910.2,985.5 911.2,981.6 912.2,982.9 913.2,988.6 914.2,983.3 915.2,983.1 916.2,982.2 917.2,983.0 918.2,983.0 919.2,983.8 920.2,983.1 921.2,982.0 922.2,981.0 923.2,989.4 924.2,982.9 925.2,980.2 926.2,981.3 927.2,982.5 928.2,980.3 929.2,984.3 930.2,981.4 931.2,981.9 932.2,981.6 933.2,978.6 934.2,984.1 935.2,982.4 936.2,977.8 937.2,980.1 938.2,979.7 939.2,978.5 940.2,978.7 941.2,977.8 942.2,979.3 943.2,978.3 944.2,975.5 945.2,976.8 946.2,975.8 947.2,978.2 948.2,977.7 949.2,976.8 950.2,977.1 951.2,977.1 952.2,974.9 953.2,972.3 954.2,979.9 955.2,973.7 956.2,973.7 957.2,975.3 958.2,979.6 959.2,971.3 960.2,972.6 961.2,974.2 962.2,969.2 963.2,970.1 964.2,970.6 965.2,970.7 966.2,966.3 967.2,966.7 968.2,965.5 969.2,963.4 970.2,960.8 971.2,959.3 972.2,953.1 973.2,944.8 974.2,934.5 975.2,920.2 976.2,900.0 977.2,874.2 978.2,842.5 979.2,806.1 980.2,764.6 981.2,726.2 982.2,697.2 983.3,684.3 984.2,693.8 985.2,726.3 986.2,771.4 987.2,817.7 988.2,861.4 989.2,896.7 990.2,923.6 991.2,941.8 992.2,953.5 993.2,960.5 994.2,964.8 995.2,967.5 996.2,969.3 997.2,970.7 998.2,972.8 999.2,973.3 1000.2,970.7 1001.2,974.2 1002.2,978.1 1003.2,978.9 1004.2,975.0 1005.2,974.1 1006.2,975.5 1007.2,974.4 1008.2,975.8 1009.2,980.5 1010.2,979.9 1011.2,977.4 1012.2,977.9 1013.2,978.8 1014.2,979.0 1015.2,979.1 1016.2,979.5 1017.2,978.9 1018.2,976.2 1019.2,979.6 1020.2,979.6 1021.2,976.9 1022.2,977.4 1023.2,979.8 1024.2,978.9 1025.2,981.3 1026.2,978.5 1027.2,980.5 1028.2,980.3 1029.2,977.1 1030.2,978.9 1031.2,979.5 1032.2,979.3 1033.2,977.2 1034.2,979.0 1035.2,980.7 1036.2,979.1 1037.2,981.3 1038.2,980.5 1039.2,980.7 1040.2,979.3 1041.2,982.7 1042.2,977.7 1043.2,985.4 1044.2,981.7 1045.2,985.6 1046.2,981.7 1047.2,981.0 1048.2,981.1 1049.2,985.5 1050.2,982.0 1051.2,981.5 1052.2,979.9 1053.2,979.9 1054.2,981.9 1055.2,982.1 1056.2,984.2 1057.2,979.8 1058.2,982.4 1059.2,980.1 1060.2,981.3 1061.2,982.5 1062.2,985.1 1063.2,979.9 1064.2,980.3 1065.2,983.2 1066.2,982.2 1067.2,978.7 1068.2,982.8 1069.2,986.5 1070.2,983.0 1071.2,990.2 1072.2,982.8 1073.2,980.7 1074.2,983.1 1075.2,981.5 1076.2,977.9 1077.2,980.5 1078.2,985.2 1079.2,981.6 1080.2,980.3 1081.2,981.9 1082.2,981.7 1083.2,978.7 1084.2,980.8 1085.2,982.7 1086.2,978.2 1087.2,981.2 1088.2,978.3 1089.2,979.9 1090.2,982.5 1091.2,980.5 1092.2,983.1 1093.2,982.3 1094.2,981.8 1095.2,978.9 1096.2,981.1 1097.2,984.0 1098.2,981.9 1099.2,977.6 1100.2,981.4 1101.2,981.2 1102.2,981.4 1103.2,981.1 1104.2,983.3 1105.2,981.6 1106.2,983.9 1107.2,986.0 1108.2,984.5 1109.2,983.1 1110.2,975.6 1111.2,973.0 1112.2,979.6 1113.2,981.8 1114.2,980.7 1115.2,979.2 1116.2,985.4 1117.2,981.5 1118.2,980.1 1119.2,981.9 1120.2,988.2 1121.2,983.0 1122.2,985.5 1123.2,979.2 1124.2,983.2 1125.2,981.3 1126.2,981.4 1127.2,981.9 1128.2,981.9 1129.2,983.8 1130.2,981.1 1131.2,982.0 1132.2,981.9 1133.2,982.7 1134.2,982.5 1135.2,977.8 1136.2,984.6 1137.2,983.0 1138.2,980.1 1139.2,982.4 1140.2,985.5 1141.2,985.2 1142.2,982.0 1143.2,981.1 1144.2,986.9 1145.2,983.7 1146.2,983.3 1147.2,982.2 1148.2,985.1 1149.2,980.8 1150.2,984.7 1151.2,984.4 1152.2,982.8 1153.2,982.1 1154.2,983.6 1155.2,982.3 1156.2,982.4 1157.2,981.7 1158.2,984.4 1159.2,980.6 1160.2,982.9 1161.2,982.7 1162.2,989.8 1163.2,980.2 1164.2,983.4 1165.2,981.6 1166.2,987.6 1167.2,980.6 1168.2,986.7 1169.2,984.0 1170.2,981.6 1171.2,983.1 1172.2,982.4 1173.2,983.5 1174.2,985.6 1175.2,983.6 1176.2,990.4 1177.2,987.1 1178.2,982.2 1179.2,981.3 1180.2,984.8 1181.2,983.3 1182.2,982.8 1183.2,987.7 1184.2,984.4 1185.2,983.0 1186.2,984.5 1187.2,984.5 1188.2,986.0 1189.2,984.0 1190.2,984.4 1191.2,982.2 1192.2,986.8 1193.2,988.0 1194.2,976.0 1195.2,986.0 1196.2,990.3 1197.2,987.2 1198.2,986.5 1199.2,983.2 1200.2,992.5 1201.2,984.3 1202.2,987.3 1203.2,986.4 1204.2,985.4 1205.2,990.0 1206.2,989.6 1207.2,984.7 1208.2,984.8 1209.2,988.0 1210.2,984.7 1211.2,987.4 1212.2,983.4 1213.2,983.6 1214.2,984.4 1215.2,984.0 1216.2,984.7 1217.2,983.4 1218.2,982.8 1219.2,984.4 1220.2,982.9 1221.2,984.2 1222.2,984.5 1223.2,989.0 1224.2,984.6 1225.2,985.3 1226.2,988.5 1227.2,984.7 1228.2,983.8 1229.2,985.2 1230.2,986.9 1231.2,983.8 1232.2,986.1 1233.2,984.8 1234.2,985.0 1235.2,985.5 1236.2,984.8 1237.2,983.0 1238.2,983.4 1239.2,980.4 1240.2,987.6 1241.2,985.4 1242.2,988.7 1243.2,983.7 1244.2,984.7 1245.2,984.7 1246.2,981.8 1247.2,984.4 1248.2,984.5 1249.2,983.7 1250.2,983.2 1251.2,982.3 1252.2,980.1 1253.2,984.0 1254.2,981.7 1255.2,979.9 1256.2,989.7 1257.2,986.1 1258.2,982.4 1259.2,982.9 1260.2,981.2 1261.2,989.6 1262.2,981.7 1263.2,984.7 1264.2,983.8 1265.2,975.9 1266.2,977.3 1267.2,981.9 1268.2,976.8 1269.2,985.4 1270.2,987.2 1271.2,982.2 1272.2,980.7 1273.2,979.9 1274.2,979.0 1275.2,981.6 1276.2,979.1 1277.2,979.6 1278.2,982.2 1279.2,983.5 1280.2,981.4 1281.2,985.2 1282.2,982.3 1283.2,980.0 1284.2,979.4 1285.2,978.1 1286.2,981.4 1287.2,979.4 1288.2,981.9 1289.2,979.0 1290.2,981.5 1291.2,979.7 1292.2,978.7 1293.2,979.5 1294.2,979.2 1295.2,973.3 1296.2,979.5 1297.2,974.5 1298.2,977.4 1299.2,977.0 1300.2,978.3 1301.2,975.2 1302.2,977.7 1303.2,978.3 1304.2,975.9 1305.2,976.8 1306.2,976.1 1307.2,977.7 1308.2,979.1 1309.2,976.3 1310.2,969.1 1311.2,979.6 1312.2,976.4 1313.2,974.0 1314.2,977.1 1315.2,975.6 1316.2,973.8 1317.2,975.0 1318.2,976.1 1319.2,974.8 1320.2,973.1 1321.2,971.3 1322.2,974.9 1323.2,976.5 1324.2,974.5 1325.2,974.8 1326.2,976.9 1327.2,975.6 1328.2,981.4 1329.2,977.0 1330.2,978.9 1331.2,975.0 1332.2,976.5 1333.2,983.7 1334.2,968.1 1335.2,975.2 1336.2,976.7 1337.2,974.1 1338.2,971.9 1339.2,975.7 1340.2,972.0 1341.2,973.7 1342.2,971.7 1343.2,977.3 1344.2,971.8 1345.2,979.8 1346.2,976.7 1347.2,976.1 1348.2,974.3 1349.2,976.3 1350.2,975.5 1351.2,979.4 1352.2,977.0 1353.2,970.9 1354.2,981.1 1355.2,984.2 1356.2,985.4 1357.2,976.3 1358.2,977.6 1359.2,978.8 1360.2,975.0 1361.2,977.7 1362.2,977.4 1363.2,980.8 1364.2,973.0 1365.2,982.4 1366.2,972.8 1367.2,982.8 1368.2,979.2 1369.2,977.7 1370.2,978.9 1371.2,983.9 1372.2,978.3 1373.2,982.2 1374.2,983.4 1375.2,979.8 1376.2,981.3 1377.2,981.2 1378.2,985.2 1379.2,979.7 1380.2,981.1 1381.2,982.6 1382.2,979.6 1383.2,980.8 1384.2,983.6 1385.2,982.9 1386.2,982.6 1387.2,984.9 1388.2,981.1 1389.2,986.0 1390.2,981.9 1391.2,986.2 1392.2,984.0 1393.2,984.1 1394.2,983.5 1395.2,984.7 1396.2,982.4 1397.2,984.6 1398.2,980.7 1399.2,984.2 1400.2,989.1 1401.2,988.6 1402.2,982.4 1403.2,986.8 1404.2,984.2 1405.2,983.6 1406.2,983.4 1407.2,983.8 1408.2,983.8 1409.2,988.4 1410.2,985.5 1411.2,982.0 1412.2,985.7 1413.2,984.6 1414.2,992.0 1415.2,983.2 1416.2,985.6 1417.2,984.4 1418.2,982.9 1419.2,981.8 1420.2,987.5 1421.2,978.2 1422.2,983.3 1423.2,984.5 1424.2,983.7 1425.2,984.9 1426.2,982.8 1427.2,986.3 1428.2,985.2 1429.2,985.5 1430.2,990.5 1431.2,982.9 1432.2,984.9 1433.2,982.9 1434.2,984.1 1435.2,985.1 1436.2,986.5 1437.2,983.3 1438.2,987.0 1439.2,986.3 1440.2,985.1 1441.2,987.7 1442.2,984.8 1443.2,991.3 1444.2,989.9 1445.2,984.6 1446.2,989.4 1447.2,986.2 1448.2,984.8 1449.2,985.1 1450.2,986.3 1451.2,989.1 1452.2,987.5 1453.2,988.9 1454.2,983.9 1455.2,976.6 1456.2,981.7 1457.2,983.5 1458.2,980.9 1459.2,984.1 1460.2,981.2 1461.2,982.8 1462.2,982.7 1463.2,986.7 1464.2,983.3 1465.2,980.7 1466.2,984.6 1467.2,986.9 1468.2,984.1 1469.2,974.8 1470.2,985.0 1471.2,981.3 1472.2,984.5 1473.2,984.4 1474.2,983.3 1475.2,979.0 1476.2,981.7 1477.2,979.7 1478.2,983.4 1479.2,978.3 1480.2,981.5 1481.2,982.7 1482.2,983.2 1483.2,980.8 1484.2,977.8 1485.2,983.1 1486.2,979.6 1487.2,980.2 1488.2,972.3 1489.2,978.9 1490.2,983.1 1491.2,980.2 1492.2,979.9 1493.2,978.9 1494.2,976.2 1495.2,976.7 1496.2,981.4 1497.2,974.9 1498.2,977.5 1499.2,976.0 1500.2,976.9 1501.2,973.7 1502.2,972.7 1503.2,974.6 1504.2,973.0 1505.2,974.4 1506.2,978.5 1507.2,970.1 1508.2,970.0 1509.2,968.6 1510.2,968.4 1511.2,966.6 1512.2,966.0 1513.2,963.7 1514.2,961.6 1515.2,959.3 1516.2,955.3 1517.2,949.7 1518.2,943.1 1519.2,934.3 1520.2,922.1 1521.2,905.5 1522.2,886.1 1523.2,861.0 1524.2,830.5 1525.2,795.5 1526.2,758.1 1527.2,718.7 1528.2,682.9 1529.2,655.7 1530.6,639.4 1531.2,649.6 1532.2,697.6 1533.2,767.3 1534.2,835.7 1535.2,890.2 1536.2,926.5 1537.2,946.8 1538.2,959.0 1539.2,968.2 1540.2,969.4 1541.2,971.0 1542.2,969.9 1543.2,972.4 1544.2,969.2 1545.2,976.9 1546.2,978.8 1547.2,976.0 1548.2,977.7 1549.2,974.3 1550.2,975.8 1551.2,977.4 1552.2,977.9 1553.2,977.7 1554.2,974.4 1555.2,981.1 1556.2,976.3 1557.2,978.5 1558.2,980.0 1559.2,975.3 1560.2,977.6 1561.2,978.3 1562.2,985.1 1563.2,978.9 1564.2,977.7 1565.2,979.0 1566.2,978.2 1567.2,975.4 1568.2,976.7 1569.2,978.8 1570.2,979.1 1571.2,978.1 1572.2,977.1 1573.2,974.3 1574.2,979.7 1575.2,976.7 1576.2,979.5 1577.2,982.5 1578.2,980.4 1579.2,978.9 1580.2,974.4 1581.2,979.7 1582.2,985.1 1583.2,978.1 1584.2,981.3 1585.2,979.5 1586.2,981.1 1587.2,980.8 1588.2,978.9 1589.2,979.9 1590.2,977.0 1591.2,977.6 1592.2,979.4 1593.2,981.7 1594.2,980.3 1595.2,983.4 1596.2,981.8 1597.2,984.7 1598.2,983.1 1599.2,981.3 1600.2,978.8 1601.2,981.9 1602.2,982.1 1603.2,979.4 1604.2,980.1 1605.2,988.8 1606.2,984.7 1607.2,982.2 1608.2,977.5 1609.2,981.9 1610.2,983.5 1611.2,988.6 1612.2,977.8 1613.2,984.8 1614.2,988.6 1615.2,989.1 1616.2,984.6 1617.2,986.0 1618.2,985.3 1619.2,978.3 1620.2,983.5 1621.2,988.6 1622.2,981.4 1623.2,982.2 1624.2,984.7 1625.2,987.0 1626.2,983.3 1627.2,984.1 1628.2,989.6 1629.2,985.5 1630.2,976.4 1631.2,983.9 1632.2,980.1 1633.2,987.4 1634.2,983.8 1635.2,985.7 1636.2,982.3 1637.2,978.2 1638.2,980.4 1639.2,978.5 1640.2,983.1 1641.2,984.3 1642.2,981.3 1643.2,983.5 1644.2,979.6 1645.2,980.8 1646.2,980.6 1647.2,980.7 1648.2,975.2 1649.2,978.4 1650.2,977.3 1651.2,980.8 1652.2,979.9 1653.2,988.4 1654.2,980.3 1655.2,977.8 1656.2,976.4 1657.2,980.1 1658.2,981.1 1659.2,976.5 1660.2,979.1 1661.2,983.7 1662.2,982.3 1663.2,976.5 1664.2,979.4 1665.2,982.2 1666.2,980.2 1667.2,973.8 1668.2,979.4 1669.2,979.1 1670.2,979.6 1671.2,986.4 1672.2,982.6 1673.2,989.4 1674.2,982.6 1675.2,986.3 1676.2,980.9 1677.2,985.3 1678.2,981.7 1679.2,983.5 1680.2,980.0 1681.2,984.5 1682.2,981.5 1683.2,986.0 1684.2,981.1 1685.2,981.6 1686.2,982.2 1687.2,984.9 1688.2,983.4 1689.2,981.0 1690.2,982.3 1691.2,984.6 1692.2,985.2 1693.2,983.7 1694.2,981.7 1695.2,986.1 1696.2,982.1 1697.2,983.8 1698.2,984.5 1699.2,983.6 1700.2,978.6 1701.2,981.2 1702.2,984.5 1703.2,983.6 1704.2,985.2 1705.2,984.0 1706.2,984.0 1707.2,985.9 1708.2,986.9 1709.2,982.2 1710.2,985.4 1711.2,988.4 1712.2,980.7 1713.2,983.2 1714.2,983.7 1715.2,983.8 1716.2,986.1 1717.2,975.7 1718.2,979.8 1719.2,985.3 1720.2,982.6 1721.2,983.5 1722.2,981.3 1723.2,988.3 1724.2,983.4 1725.2,979.6 1726.2,986.4 1727.2,983.6 1728.2,981.8 1729.2,979.8 1730.2,977.7 1731.2,985.4 1732.2,980.1 1733.2,981.2 1734.2,982.9 1735.2,978.8 1736.2,983.6 1737.2,983.1 1738.2,983.0 1739.2,981.6 1740.2,981.1 1741.2,983.6 1742.2,988.2 1743.2,982.4 1744.2,985.2 1745.2,979.6 1746.2,983.1 1747.2,980.2 1748.2,980.5 1749.2,976.2 1750.2,985.4 1751.2,979.1 1752.2,979.8 1753.2,980.5 1754.2,980.8 1755.2,982.9 1756.2,977.5 1757.2,977.2 1758.2,979.2 1759.2,983.4 1760.2,982.6 1761.2,983.5 1762.2,980.4 1763.2,971.9 1764.2,980.6 1765.2,979.0 1766.2,977.5 1767.2,978.9 1768.2,980.9 1769.2,980.0 1770.2,980.8 1771.2,980.0 1772.2,979.7 1773.2,979.4 1774.2,980.6 1775.2,979.9 1776.2,979.7 1777.2,978.1 1778.2,977.1 1779.2,980.2 1780.2,979.2 1781.2,980.0 1782.2,977.9 1783.2,972.5 1784.2,980.4 1785.2,977.0 1786.2,980.4 1787.2,975.0 1788.2,976.2 1789.2,976.6 1790.2,977.1 1791.2,981.4 1792.2,974.0 1793.2,978.8 1794.2,980.0 1795.2,980.0 1796.2,980.8 1797.2,980.2 1798.2,977.7 1799.2,976.8 1800.2,981.8 1801.2,979.3 1802.2,978.1 1803.2,979.4 1804.2,977.9 1805.2,981.9 1806.2,978.9 1807.2,980.9 1808.2,980.2 1809.2,980.9 1810.2,984.2 1811.2,980.6 1812.2,978.3 1813.2,981.6 1814.2,979.9 1815.2,979.6 1816.2,982.7 1817.2,979.4 1818.2,979.9 1819.2,980.6 1820.2,982.3 1821.2,982.3 1822.2,980.3 1823.2,973.2 1824.2,972.4 1825.2,977.9 1826.2,988.8 1827.2,980.3 1828.2,980.4 1829.2,981.3 1830.2,980.3 1831.2,978.2 1832.2,981.2 1833.2,978.2 1834.2,979.3 1835.2,974.5 1836.2,980.4 1837.2,981.5 1838.2,979.0 1839.2,975.6 1840.2,978.9 1841.2,977.5 1842.2,977.8 1843.2,979.9 1844.2,979.6 1845.2,979.4 1846.2,978.6 1847.2,979.2 1848.2,978.5 1849.2,978.1 1850.2,975.3 1851.2,980.6 1852.2,977.6 1853.2,979.9 1854.2,980.3 1855.2,977.2 1856.2,978.0 1857.2,977.2 1858.2,978.5 1859.2,982.7 1860.2,969.3 1861.2,978.5 1862.2,975.0 1863.2,974.7 1864.2,976.7 1865.2,974.5 1866.2,975.4 1867.2,973.1 1868.2,969.5 1869.2,974.3 1870.2,972.3 1871.2,975.7 1872.2,969.1 1873.2,970.3 1874.2,973.7 1875.2,969.6 1876.2,969.5 1877.2,965.3 1878.2,966.3 1879.2,963.6 1880.2,961.1 1881.2,957.2 1882.2,952.7 1883.2,947.0 1884.2,940.3 1885.2,932.3 1886.2,922.3 1887.2,911.3 1888.2,898.0 1889.2,884.6 1890.2,868.8 1891.2,852.0 1892.2,835.5 1893.2,819.5 1894.2,804.5 1895.2,793.1 1896.2,785.2 1897.3,782.1 1898.2,787.8 1899.2,806.0 1900.2,833.8 1901.2,865.1 1902.2,894.9 1903.2,923.6 1904.2,944.3 1905.2,960.7 1906.2,971.2 1907.2,980.1 1908.2,984.2 1909.2,983.0 1910.2,985.0 1911.2,982.8 1912.2,985.9 1913.2,985.0 1914.2,985.7 1915.2,985.5 1916.2,989.1 1917.2,985.9 1918.2,987.4 1919.2,984.7 1920.2,983.8 1921.2,988.7 1922.2,982.9 1923.2,979.0 1924.2,981.5 1925.2,983.9 1926.2,982.0 1927.2,983.4 1928.2,982.4 1929.2,984.4 1930.2,979.0 1931.2,983.9 1932.2,979.4 1933.2,981.2 1934.2,985.6 1935.2,981.1 1936.2,982.4 1937.2,981.7 1938.2,979.7 1939.2,982.8 1940.2,978.9 1941.2,978.7 1942.2,983.1 1943.2,982.7 1944.2,985.7 1945.2,983.9 1946.2,983.4 1947.2,983.1 1948.2,987.4 1949.2,986.3 1950.2,985.0 1951.2,982.1 1952.2,984.8 1953.2,980.5 1954.2,981.7 1955.2,983.7 1956.2,980.2 1957.2,980.0 1958.2,984.0 1959.2,985.4 1960.2,982.2 1961.2,985.6 1962.2,980.9 1963.2,982.9 1964.2,982.4 1965.2,984.4 1966.2,982.9 1967.2,982.8 1968.2,978.8 1969.2,980.2 1970.2,980.7 1971.2,982.7 1972.2,983.9 1973.2,984.8 1974.2,983.3 1975.2,982.9 1976.2,982.8 1977.2,981.2 1978.2,976.0 1979.2,977.2 1980.2,975.9 1981.2,980.7 1982.2,980.4 1983.2,977.1 1984.2,978.0 1985.2,976.5 1986.2,980.9 1987.2,980.0 1988.2,979.2 1989.2,978.6 1990.2,977.9 1991.2,977.5 1992.2,975.0 1993.2,977.3 1994.2,977.4 1995.2,977.6 1996.2,973.3 1997.2,979.9 1998.2,977.2 1999.2,976.9 2000.2,974.7 2001.2,976.0 2002.2,976.5 2003.2,974.2 2004.2,976.7 2005.2,976.3 2006.2,977.5 2007.2,976.1 2008.2,976.8 2009.2,980.3 2010.2,976.7 2011.2,967.3 2012.2,972.1 2013.2,975.5 2014.2,975.7 2015.2,976.4 2016.2,975.6 2017.2,975.6 2018.2,972.1 2019.2,978.0 2020.2,976.0 2021.2,979.8 2022.2,979.2 2023.2,980.8 2024.2,976.6 2025.2,971.8 2026.2,975.6 2027.2,976.0 2028.2,974.6 2029.2,971.0 2030.2,977.2 2031.2,977.5 2032.2,974.0 2033.2,968.6 2034.2,977.1 2035.2,976.8 2036.2,973.5 2037.2,974.0 2038.2,974.5 2039.2,976.7 2040.2,978.4 2041.2,978.0 2042.2,974.0 2043.2,975.2 2044.2,976.1 2045.2,976.5 2046.2,974.5 2047.2,975.3 2048.2,976.4 2049.2,976.6 2050.2,977.3 2051.2,976.2 2052.2,970.2 2053.2,974.5 2054.2,976.2 2055.2,975.0 2056.2,982.5 2057.2,974.7 2058.2,978.5 2059.2,974.3 2060.2,977.5 2061.2,977.0 2062.2,984.5 2063.2,976.8 2064.2,979.6 2065.2,978.7 2066.2,975.4 2067.2,976.2 2068.2,972.9 2069.2,974.3 2070.2,978.7 2071.2,974.3 2072.2,975.2 2073.2,974.2 2074.2,977.9 2075.2,973.7 2076.2,976.4 2077.2,973.9 2078.2,978.2 2079.2,973.6 2080.2,976.4 2081.2,980.6 2082.2,976.6 2083.2,976.0 2084.2,976.9 2085.2,975.2 2086.2,972.6 2087.2,976.5 2088.2,978.0 2089.2,973.9 2090.2,975.0 2091.2,977.2 2092.2,973.8 2093.2,974.1 2094.2,974.1 2095.2,972.4 2096.2,977.8 2097.2,975.3 2098.2,975.3 2099.2,975.9 2100.2,976.9 2101.2,974.4 2102.2,979.5" fill="none" stroke="#d81010" stroke-width="1.8" stroke-linejoin="miter"/>
<path d="M282.2,1631.7 L283.2,1633.6 284.2,1636.8 285.2,1635.4 286.2,1631.9 287.2,1634.9 288.2,1635.1 289.2,1633.0 290.2,1636.4 291.2,1632.4 292.2,1634.8 293.2,1635.4 294.2,1635.0 295.2,1635.7 296.2,1636.6 297.2,1640.1 298.2,1634.4 299.2,1636.1 300.2,1636.4 301.2,1634.5 302.2,1626.9 303.2,1641.2 304.2,1634.6 305.2,1634.7 306.2,1638.5 307.2,1636.0 308.2,1635.6 309.2,1637.2 310.2,1630.4 311.2,1636.8 312.2,1635.2 313.2,1632.6 314.2,1636.6 315.2,1639.6 316.2,1634.2 317.2,1636.5 318.2,1634.9 319.2,1637.2 320.2,1637.2 321.2,1634.5 322.2,1638.3 323.2,1637.0 324.2,1637.3 325.2,1638.4 326.2,1636.3 327.2,1638.1 328.2,1639.5 329.2,1633.9 330.2,1639.3 331.2,1636.6 332.2,1637.1 333.2,1635.0 334.2,1638.4 335.2,1636.5 336.2,1640.2 337.2,1636.6 338.2,1638.0 339.2,1637.4 340.2,1638.4 341.2,1636.1 342.2,1635.9 343.2,1639.1 344.2,1639.1 345.2,1638.0 346.2,1641.2 347.2,1635.9 348.2,1639.9 349.2,1635.4 350.2,1642.5 351.2,1638.0 352.2,1637.8 353.2,1642.7 354.2,1638.9 355.2,1638.9 356.2,1632.9 357.2,1636.5 358.2,1633.7 359.2,1635.2 360.2,1635.2 361.2,1639.1 362.2,1633.9 363.2,1635.3 364.2,1636.1 365.2,1638.2 366.2,1640.8 367.2,1636.6 368.2,1633.7 369.2,1635.3 370.2,1635.9 371.2,1630.4 372.2,1635.4 373.2,1633.7 374.2,1634.5 375.2,1634.7 376.2,1634.5 377.2,1633.6 378.2,1633.6 379.2,1631.4 380.2,1633.1 381.2,1630.4 382.2,1633.0 383.2,1633.3 384.2,1634.7 385.2,1632.8 386.2,1627.1 387.2,1633.4 388.2,1631.7 389.2,1634.7 390.2,1633.0 391.2,1633.0 392.2,1636.8 393.2,1633.2 394.2,1633.0 395.2,1633.0 396.2,1633.7 397.2,1630.6 398.2,1634.1 399.2,1637.4 400.2,1634.1 401.2,1635.0 402.2,1637.9 403.2,1635.7 404.2,1634.6 405.2,1635.1 406.2,1635.0 407.2,1631.6 408.2,1632.7 409.2,1631.9 410.2,1631.2 411.2,1632.6 412.2,1631.3 413.2,1632.5 414.2,1632.2 415.2,1628.7 416.2,1631.3 417.2,1630.9 418.2,1632.3 419.2,1627.8 420.2,1629.0 421.2,1631.1 422.2,1630.7 423.2,1631.9 424.2,1630.4 425.2,1629.5 426.2,1635.1 427.2,1630.0 428.2,1629.0 429.2,1630.3 430.2,1630.7 431.2,1630.0 432.2,1631.7 433.2,1635.6 434.2,1629.0 435.2,1631.4 436.2,1632.6 437.2,1634.6 438.2,1640.5 439.2,1629.6 440.2,1632.2 441.2,1634.8 442.2,1627.9 443.2,1632.7 444.2,1630.4 445.2,1633.9 446.2,1636.6 447.2,1632.8 448.2,1625.1 449.2,1629.0 450.2,1632.6 451.2,1635.3 452.2,1631.8 453.2,1634.1 454.2,1633.0 455.2,1632.3 456.2,1634.6 457.2,1632.8 458.2,1633.2 459.2,1635.3 460.2,1633.9 461.2,1635.6 462.2,1634.1 463.2,1632.0 464.2,1633.9 465.2,1636.8 466.2,1634.5 467.2,1639.4 468.2,1625.7 469.2,1633.7 470.2,1635.9 471.2,1635.4 472.2,1634.8 473.2,1635.4 474.2,1637.3 475.2,1635.6 476.2,1635.0 477.2,1635.1 478.2,1635.6 479.2,1634.1 480.2,1635.8 481.2,1635.5 482.2,1636.7 483.2,1635.0 484.2,1629.6 485.2,1635.4 486.2,1637.7 487.2,1635.9 488.2,1636.0 489.2,1635.0 490.2,1634.8 491.2,1636.6 492.2,1632.0 493.2,1638.1 494.2,1638.3 495.2,1640.7 496.2,1633.3 497.2,1633.0 498.2,1638.8 499.2,1635.5 500.2,1634.8 501.2,1635.6 502.2,1636.9 503.2,1634.1 504.2,1636.3 505.2,1637.2 506.2,1637.7 507.2,1629.6 508.2,1638.6 509.2,1636.6 510.2,1636.7 511.2,1637.3 512.2,1636.1 513.2,1640.1 514.2,1635.7 515.2,1637.6 516.2,1635.5 517.2,1638.2 518.2,1640.9 519.2,1640.6 520.2,1635.4 521.2,1638.6 522.2,1641.0 523.2,1636.4 524.2,1637.8 525.2,1639.3 526.2,1639.5 527.2,1638.1 528.2,1639.0 529.2,1639.2 530.2,1637.8 531.2,1639.2 532.2,1638.9 533.2,1639.6 534.2,1638.7 535.2,1638.0 536.2,1638.5 537.2,1642.4 538.2,1637.0 539.2,1636.6 540.2,1631.8 541.2,1641.3 542.2,1646.2 543.2,1637.5 544.2,1637.7 545.2,1637.2 546.2,1639.4 547.2,1638.9 548.2,1640.9 549.2,1637.3 550.2,1641.6 551.2,1638.8 552.2,1640.8 553.2,1640.7 554.2,1642.2 555.2,1638.9 556.2,1639.4 557.2,1639.2 558.2,1637.1 559.2,1638.9 560.2,1642.6 561.2,1642.1 562.2,1632.8 563.2,1639.5 564.2,1637.9 565.2,1636.2 566.2,1636.2 567.2,1640.3 568.2,1643.3 569.2,1638.6 570.2,1637.9 571.2,1638.4 572.2,1640.4 573.2,1639.6 574.2,1634.3 575.2,1636.6 576.2,1640.7 577.2,1638.1 578.2,1638.8 579.2,1639.5 580.2,1638.5 581.2,1639.0 582.2,1637.9 583.2,1636.1 584.2,1635.7 585.2,1645.7 586.2,1630.0 587.2,1638.1 588.2,1639.9 589.2,1635.6 590.2,1632.5 591.2,1636.4 592.2,1635.9 593.2,1636.5 594.2,1636.2 595.2,1640.5 596.2,1633.6 597.2,1640.4 598.2,1631.6 599.2,1640.0 600.2,1635.2 601.2,1637.1 602.2,1627.3 603.2,1635.6 604.2,1636.7 605.2,1636.4 606.2,1637.6 607.2,1633.5 608.2,1635.3 609.2,1636.2 610.2,1630.2 611.2,1637.8 612.2,1635.3 613.2,1634.3 614.2,1634.0 615.2,1636.2 616.2,1631.1 617.2,1634.1 618.2,1634.5 619.2,1634.2 620.2,1636.6 621.2,1635.8 622.2,1638.5 623.2,1636.3 624.2,1634.3 625.2,1634.5 626.2,1632.6 627.2,1633.9 628.2,1635.7 629.2,1636.4 630.2,1634.2 631.2,1634.4 632.2,1636.9 633.2,1639.8 634.2,1631.7 635.2,1631.3 636.2,1636.4 637.2,1635.0 638.2,1634.7 639.2,1635.5 640.2,1636.3 641.2,1631.2 642.2,1639.8 643.2,1639.6 644.2,1634.6 645.2,1634.8 646.2,1633.8 647.2,1635.3 648.2,1633.2 649.2,1635.1 650.2,1638.1 651.2,1634.9 652.2,1636.9 653.2,1633.0 654.2,1637.7 655.2,1632.3 656.2,1633.3 657.2,1636.0 658.2,1633.9 659.2,1632.1 660.2,1631.3 661.2,1636.1 662.2,1628.0 663.2,1629.6 664.2,1637.7 665.2,1634.7 666.2,1632.2 667.2,1630.6 668.2,1634.6 669.2,1633.3 670.2,1632.1 671.2,1631.1 672.2,1630.7 673.2,1636.2 674.2,1630.0 675.2,1626.2 676.2,1625.6 677.2,1629.3 678.2,1629.7 679.2,1628.9 680.2,1629.4 681.2,1627.0 682.2,1627.3 683.2,1626.7 684.2,1627.3 685.2,1626.7 686.2,1630.0 687.2,1625.6 688.2,1626.2 689.2,1629.0 690.2,1627.5 691.2,1627.2 692.2,1633.6 693.2,1630.9 694.2,1626.3 695.2,1625.7 696.2,1627.9 697.2,1628.2 698.2,1627.2 699.2,1628.3 700.2,1628.8 701.2,1629.9 702.2,1626.7 703.2,1628.9 704.2,1624.2 705.2,1624.5 706.2,1624.3 707.2,1625.8 708.2,1630.3 709.2,1628.2 710.2,1628.9 711.2,1628.8 712.2,1627.4 713.2,1624.7 714.2,1627.4 715.2,1631.8 716.2,1628.8 717.2,1629.3 718.2,1628.5 719.2,1631.1 720.2,1630.9 721.2,1629.6 722.2,1630.2 723.2,1629.9 724.2,1630.8 725.2,1631.1 726.2,1631.1 727.2,1634.0 728.2,1635.5 729.2,1626.9 730.2,1630.9 731.2,1626.8 732.2,1631.2 733.2,1633.6 734.2,1632.8 735.2,1632.4 736.2,1629.0 737.2,1634.3 738.2,1633.1 739.2,1631.8 740.2,1634.5 741.2,1628.2 742.2,1631.3 743.2,1635.0 744.2,1629.0 745.2,1631.1 746.2,1633.8 747.2,1635.0 748.2,1634.5 749.2,1629.3 750.2,1633.2 751.2,1635.5 752.2,1634.0 753.2,1633.0 754.2,1626.4 755.2,1633.9 756.2,1639.0 757.2,1631.0 758.2,1635.8 759.2,1638.9 760.2,1636.8 761.2,1634.8 762.2,1636.6 763.2,1633.3 764.2,1636.0 765.2,1634.9 766.2,1638.8 767.2,1638.7 768.2,1637.6 769.2,1635.7 770.2,1638.0 771.2,1642.5 772.2,1635.9 773.2,1636.6 774.2,1634.4 775.2,1633.7 776.2,1637.7 777.2,1632.7 778.2,1637.1 779.2,1633.9 780.2,1637.5 781.2,1638.1 782.2,1640.7 783.2,1636.2 784.2,1636.1 785.2,1636.1 786.2,1637.5 787.2,1638.1 788.2,1633.6 789.2,1635.5 790.2,1632.1 791.2,1634.8 792.2,1637.4 793.2,1640.0 794.2,1642.2 795.2,1632.2 796.2,1635.5 797.2,1638.5 798.2,1635.8 799.2,1635.0 800.2,1637.1 801.2,1637.8 802.2,1632.8 803.2,1634.9 804.2,1632.3 805.2,1632.4 806.2,1634.1 807.2,1632.4 808.2,1635.2 809.2,1632.6 810.2,1631.0 811.2,1633.1 812.2,1631.1 813.2,1628.2 814.2,1640.3 815.2,1629.8 816.2,1629.1 817.2,1631.6 818.2,1623.3 819.2,1633.3 820.2,1628.0 821.2,1626.0 822.2,1630.7 823.2,1617.4 824.2,1601.7 825.2,1584.9 825.9,1580.1 827.2,1591.4 828.2,1609.0 829.2,1619.9 830.2,1623.5 831.2,1634.6 832.2,1632.9 833.2,1635.7 834.2,1634.9 835.2,1636.7 836.2,1636.1 837.2,1641.2 838.2,1635.9 839.2,1638.5 840.2,1638.3 841.2,1636.9 842.2,1636.7 843.2,1636.5 844.2,1637.6 845.2,1635.3 846.2,1636.9 847.2,1637.9 848.2,1636.4 849.2,1635.8 850.2,1634.5 851.2,1639.2 852.2,1640.1 853.2,1639.5 854.2,1638.3 855.2,1637.7 856.2,1633.2 857.2,1639.9 858.2,1637.0 859.2,1638.0 860.2,1634.4 861.2,1638.2 862.2,1634.6 863.2,1641.5 864.2,1637.8 865.2,1636.9 866.2,1637.4 867.2,1635.2 868.2,1636.6 869.2,1633.1 870.2,1635.1 871.2,1634.8 872.2,1633.3 873.2,1634.5 874.2,1630.5 875.2,1628.3 876.2,1632.6 877.2,1640.4 878.2,1633.5 879.2,1631.8 880.2,1630.2 881.2,1629.4 882.2,1631.9 883.2,1633.3 884.2,1635.0 885.2,1633.3 886.2,1636.1 887.2,1636.0 888.2,1636.8 889.2,1634.1 890.2,1635.0 891.2,1633.1 892.2,1635.7 893.2,1630.7 894.2,1635.2 895.2,1633.3 896.2,1635.3 897.2,1633.5 898.2,1627.0 899.2,1635.1 900.2,1635.1 901.2,1635.6 902.2,1632.8 903.2,1635.4 904.2,1634.5 905.2,1632.1 906.2,1635.0 907.2,1636.2 908.2,1634.5 909.2,1636.4 910.2,1637.0 911.2,1628.8 912.2,1633.9 913.2,1634.4 914.2,1635.8 915.2,1635.3 916.2,1635.7 917.2,1631.9 918.2,1634.4 919.2,1633.3 920.2,1636.6 921.2,1636.2 922.2,1634.4 923.2,1637.8 924.2,1632.9 925.2,1629.2 926.2,1634.7 927.2,1635.9 928.2,1639.1 929.2,1635.1 930.2,1632.6 931.2,1635.2 932.2,1628.6 933.2,1636.2 934.2,1633.4 935.2,1631.1 936.2,1631.6 937.2,1635.3 938.2,1636.1 939.2,1631.2 940.2,1640.5 941.2,1634.6 942.2,1631.5 943.2,1628.0 944.2,1629.6 945.2,1631.1 946.2,1629.5 947.2,1629.0 948.2,1629.4 949.2,1632.4 950.2,1625.5 951.2,1632.5 952.2,1629.1 953.2,1630.0 954.2,1628.7 955.2,1631.8 956.2,1626.5 957.2,1626.7 958.2,1627.3 959.2,1626.8 960.2,1625.7 961.2,1625.1 962.2,1622.9 963.2,1624.5 964.2,1625.1 965.2,1624.5 966.2,1621.7 967.2,1624.2 968.2,1622.2 969.2,1617.7 970.2,1615.2 971.2,1615.0 972.2,1612.9 973.2,1609.1 974.2,1606.3 975.2,1601.3 976.2,1596.1 977.2,1589.2 978.2,1581.8 979.2,1572.5 980.2,1558.5 981.2,1541.2 982.2,1516.4 983.2,1482.1 984.2,1431.8 985.2,1361.3 986.2,1269.1 987.2,1162.6 988.2,1074.8 988.9,1052.3 989.5,1132.6 990.2,1297.4 991.2,1447.8 992.2,1514.5 993.2,1545.8 994.2,1564.6 995.2,1577.6 996.2,1587.1 997.2,1594.4 998.2,1600.6 999.2,1605.5 1000.2,1610.3 1001.2,1614.1 1002.2,1615.7 1003.2,1618.6 1004.2,1619.9 1005.2,1623.2 1006.2,1623.6 1007.2,1627.2 1008.2,1625.5 1009.2,1627.6 1010.2,1628.3 1011.2,1631.7 1012.2,1629.8 1013.2,1632.5 1014.2,1629.9 1015.2,1622.5 1016.2,1629.5 1017.2,1631.6 1018.2,1630.1 1019.2,1631.6 1020.2,1628.6 1021.2,1631.9 1022.2,1631.0 1023.2,1635.5 1024.2,1628.3 1025.2,1631.2 1026.2,1633.3 1027.2,1631.6 1028.2,1632.0 1029.2,1631.5 1030.2,1629.3 1031.2,1631.6 1032.2,1635.0 1033.2,1633.9 1034.2,1631.7 1035.2,1633.4 1036.2,1634.3 1037.2,1634.4 1038.2,1628.7 1039.2,1630.8 1040.2,1637.3 1041.2,1631.7 1042.2,1634.2 1043.2,1633.2 1044.2,1635.1 1045.2,1629.1 1046.2,1636.2 1047.2,1635.0 1048.2,1630.9 1049.2,1633.3 1050.2,1624.0 1051.2,1634.5 1052.2,1631.7 1053.2,1633.2 1054.2,1633.5 1055.2,1626.3 1056.2,1634.4 1057.2,1628.7 1058.2,1629.4 1059.2,1631.3 1060.2,1630.3 1061.2,1632.3 1062.2,1629.9 1063.2,1632.4 1064.2,1633.5 1065.2,1637.1 1066.2,1632.0 1067.2,1631.5 1068.2,1633.0 1069.2,1633.6 1070.2,1636.6 1071.2,1633.6 1072.2,1633.1 1073.2,1632.5 1074.2,1634.8 1075.2,1634.4 1076.2,1630.3 1077.2,1633.2 1078.2,1632.2 1079.2,1634.4 1080.2,1634.0 1081.2,1632.4 1082.2,1634.7 1083.2,1635.3 1084.2,1633.9 1085.2,1636.7 1086.2,1631.6 1087.2,1630.6 1088.2,1635.7 1089.2,1634.9 1090.2,1636.0 1091.2,1638.5 1092.2,1634.7 1093.2,1636.6 1094.2,1635.3 1095.2,1634.7 1096.2,1634.7 1097.2,1642.5 1098.2,1634.0 1099.2,1634.4 1100.2,1634.6 1101.2,1635.3 1102.2,1630.7 1103.2,1635.4 1104.2,1629.9 1105.2,1634.2 1106.2,1634.5 1107.2,1635.0 1108.2,1635.0 1109.2,1635.2 1110.2,1629.0 1111.2,1633.9 1112.2,1636.0 1113.2,1634.4 1114.2,1636.8 1115.2,1634.9 1116.2,1635.0 1117.2,1635.6 1118.2,1641.2 1119.2,1626.2 1120.2,1632.0 1121.2,1631.5 1122.2,1633.1 1123.2,1628.7 1124.2,1641.8 1125.2,1632.5 1126.2,1634.7 1127.2,1637.5 1128.2,1634.7 1129.2,1633.4 1130.2,1633.8 1131.2,1634.5 1132.2,1633.9 1133.2,1634.7 1134.2,1634.4 1135.2,1631.4 1136.2,1637.4 1137.2,1640.1 1138.2,1635.1 1139.2,1631.6 1140.2,1638.0 1141.2,1634.2 1142.2,1634.3 1143.2,1633.5 1144.2,1638.5 1145.2,1635.7 1146.2,1633.8 1147.2,1634.2 1148.2,1634.5 1149.2,1634.3 1150.2,1635.6 1151.2,1639.2 1152.2,1630.2 1153.2,1637.1 1154.2,1637.1 1155.2,1633.3 1156.2,1640.8 1157.2,1637.5 1158.2,1635.9 1159.2,1631.9 1160.2,1634.7 1161.2,1636.3 1162.2,1635.2 1163.2,1631.0 1164.2,1636.6 1165.2,1634.8 1166.2,1633.7 1167.2,1634.7 1168.2,1632.5 1169.2,1634.9 1170.2,1629.0 1171.2,1644.3 1172.2,1633.3 1173.2,1635.1 1174.2,1634.9 1175.2,1635.8 1176.2,1635.3 1177.2,1638.9 1178.2,1634.3 1179.2,1644.9 1180.2,1635.9 1181.2,1642.8 1182.2,1635.7 1183.2,1633.1 1184.2,1638.7 1185.2,1634.5 1186.2,1638.1 1187.2,1639.6 1188.2,1635.4 1189.2,1636.2 1190.2,1637.4 1191.2,1639.7 1192.2,1639.6 1193.2,1637.3 1194.2,1637.7 1195.2,1639.2 1196.2,1635.3 1197.2,1641.4 1198.2,1640.2 1199.2,1636.3 1200.2,1638.4 1201.2,1639.1 1202.2,1638.7 1203.2,1634.5 1204.2,1634.3 1205.2,1636.8 1206.2,1635.5 1207.2,1638.5 1208.2,1639.9 1209.2,1639.1 1210.2,1642.0 1211.2,1638.9 1212.2,1638.9 1213.2,1636.6 1214.2,1643.8 1215.2,1640.2 1216.2,1645.6 1217.2,1643.4 1218.2,1636.3 1219.2,1640.1 1220.2,1639.7 1221.2,1641.0 1222.2,1635.0 1223.2,1640.2 1224.2,1639.9 1225.2,1638.8 1226.2,1636.6 1227.2,1640.0 1228.2,1634.6 1229.2,1638.2 1230.2,1633.3 1231.2,1637.8 1232.2,1637.3 1233.2,1639.0 1234.2,1639.3 1235.2,1639.3 1236.2,1637.8 1237.2,1639.5 1238.2,1638.7 1239.2,1638.0 1240.2,1639.4 1241.2,1643.2 1242.2,1637.5 1243.2,1642.4 1244.2,1637.9 1245.2,1636.8 1246.2,1637.1 1247.2,1637.8 1248.2,1636.1 1249.2,1640.5 1250.2,1636.3 1251.2,1637.2 1252.2,1639.0 1253.2,1638.5 1254.2,1637.2 1255.2,1637.4 1256.2,1637.6 1257.2,1636.5 1258.2,1635.7 1259.2,1638.9 1260.2,1633.6 1261.2,1633.1 1262.2,1634.6 1263.2,1633.9 1264.2,1640.8 1265.2,1635.2 1266.2,1637.7 1267.2,1634.9 1268.2,1633.0 1269.2,1637.1 1270.2,1637.0 1271.2,1631.5 1272.2,1635.4 1273.2,1634.1 1274.2,1631.7 1275.2,1632.8 1276.2,1634.6 1277.2,1631.4 1278.2,1633.5 1279.2,1633.1 1280.2,1633.1 1281.2,1631.0 1282.2,1635.0 1283.2,1633.3 1284.2,1634.1 1285.2,1633.9 1286.2,1632.6 1287.2,1634.7 1288.2,1633.2 1289.2,1637.2 1290.2,1633.6 1291.2,1632.1 1292.2,1633.9 1293.2,1633.7 1294.2,1638.6 1295.2,1633.4 1296.2,1637.3 1297.2,1628.9 1298.2,1632.1 1299.2,1633.7 1300.2,1636.2 1301.2,1635.5 1302.2,1635.0 1303.2,1635.2 1304.2,1638.0 1305.2,1634.5 1306.2,1637.9 1307.2,1636.0 1308.2,1637.7 1309.2,1639.0 1310.2,1637.0 1311.2,1635.8 1312.2,1636.4 1313.2,1636.7 1314.2,1635.2 1315.2,1638.3 1316.2,1639.5 1317.2,1638.6 1318.2,1643.9 1319.2,1643.5 1320.2,1641.1 1321.2,1641.4 1322.2,1638.9 1323.2,1641.1 1324.2,1635.5 1325.2,1633.6 1326.2,1636.0 1327.2,1638.9 1328.2,1640.9 1329.2,1634.5 1330.2,1639.2 1331.2,1640.1 1332.2,1642.0 1333.2,1640.0 1334.2,1638.4 1335.2,1636.4 1336.2,1639.7 1337.2,1641.5 1338.2,1641.8 1339.2,1640.1 1340.2,1637.5 1341.2,1635.6 1342.2,1634.4 1343.2,1637.3 1344.2,1638.2 1345.2,1635.3 1346.2,1637.7 1347.2,1635.9 1348.2,1638.0 1349.2,1636.1 1350.2,1637.1 1351.2,1633.9 1352.2,1635.1 1353.2,1637.2 1354.2,1627.6 1355.2,1637.4 1356.2,1633.6 1357.2,1641.3 1358.2,1631.3 1359.2,1632.0 1360.2,1632.7 1361.2,1632.0 1362.2,1632.0 1363.2,1633.8 1364.2,1629.1 1365.2,1632.2 1366.2,1630.8 1367.2,1634.2 1368.2,1635.1 1369.2,1630.5 1370.2,1630.0 1371.2,1633.5 1372.2,1634.4 1373.2,1631.8 1374.2,1633.3 1375.2,1634.3 1376.2,1629.9 1377.2,1629.3 1378.2,1625.7 1379.2,1629.5 1380.2,1628.1 1381.2,1630.9 1382.2,1630.3 1383.2,1633.8 1384.2,1630.9 1385.2,1628.8 1386.2,1629.6 1387.2,1630.3 1388.2,1630.5 1389.2,1634.5 1390.2,1631.1 1391.2,1629.8 1392.2,1629.6 1393.2,1631.1 1394.2,1627.6 1395.2,1630.9 1396.2,1634.1 1397.2,1634.6 1398.2,1631.5 1399.2,1631.6 1400.2,1630.8 1401.2,1632.1 1402.2,1631.7 1403.2,1632.8 1404.2,1636.7 1405.2,1633.8 1406.2,1630.3 1407.2,1630.9 1408.2,1633.9 1409.2,1638.8 1410.2,1633.8 1411.2,1635.7 1412.2,1632.7 1413.2,1632.7 1414.2,1640.5 1415.2,1637.0 1416.2,1634.4 1417.2,1636.6 1418.2,1635.6 1419.2,1636.7 1420.2,1635.6 1421.2,1636.2 1422.2,1639.5 1423.2,1635.2 1424.2,1636.8 1425.2,1640.3 1426.2,1631.0 1427.2,1634.5 1428.2,1635.2 1429.2,1636.2 1430.2,1635.8 1431.2,1640.0 1432.2,1634.3 1433.2,1635.2 1434.2,1632.7 1435.2,1634.3 1436.2,1636.7 1437.2,1632.2 1438.2,1640.4 1439.2,1637.8 1440.2,1633.3 1441.2,1638.2 1442.2,1634.1 1443.2,1636.8 1444.2,1635.2 1445.2,1634.9 1446.2,1637.0 1447.2,1639.6 1448.2,1633.7 1449.2,1635.4 1450.2,1637.0 1451.2,1641.5 1452.2,1636.6 1453.2,1639.7 1454.2,1637.4 1455.2,1637.1 1456.2,1638.7 1457.2,1635.7 1458.2,1637.5 1459.2,1632.6 1460.2,1637.6 1461.2,1645.7 1462.2,1634.0 1463.2,1634.6 1464.2,1637.8 1465.2,1641.1 1466.2,1637.7 1467.2,1642.1 1468.2,1636.7 1469.2,1644.7 1470.2,1635.9 1471.2,1638.8 1472.2,1636.7 1473.2,1639.3 1474.2,1632.7 1475.2,1636.5 1476.2,1640.6 1477.2,1638.6 1478.2,1637.2 1479.2,1636.7 1480.2,1640.9 1481.2,1635.4 1482.2,1635.4 1483.2,1633.3 1484.2,1637.6 1485.2,1639.9 1486.2,1634.5 1487.2,1638.0 1488.2,1637.9 1489.2,1635.0 1490.2,1636.4 1491.2,1636.4 1492.2,1632.3 1493.2,1639.3 1494.2,1633.3 1495.2,1633.2 1496.2,1635.7 1497.2,1634.6 1498.2,1635.6 1499.2,1634.5 1500.2,1631.1 1501.2,1633.2 1502.2,1637.8 1503.2,1631.8 1504.2,1630.7 1505.2,1633.9 1506.2,1628.7 1507.2,1630.5 1508.2,1636.5 1509.2,1631.4 1510.2,1627.3 1511.2,1626.1 1512.2,1627.6 1513.2,1627.4 1514.2,1627.0 1515.2,1623.9 1516.2,1623.4 1517.2,1621.9 1518.2,1619.7 1519.2,1618.0 1520.2,1614.8 1521.2,1611.0 1522.2,1606.7 1523.2,1600.8 1524.2,1594.3 1525.2,1586.3 1526.2,1576.4 1527.2,1564.4 1528.2,1550.9 1529.2,1537.7 1530.2,1521.2 1531.2,1502.9 1532.2,1482.3 1533.2,1462.3 1534.2,1441.8 1535.2,1419.8 1536.2,1399.0 1537.2,1380.6 1538.2,1363.7 1539.2,1349.2 1540.2,1340.4 1541.5,1336.0 1542.2,1340.4 1543.2,1360.6 1544.2,1393.1 1545.2,1432.6 1546.2,1475.5 1547.2,1515.5 1548.2,1550.6 1549.2,1578.4 1550.2,1600.0 1551.2,1613.6 1552.2,1622.4 1553.2,1626.3 1554.2,1632.0 1555.2,1638.0 1556.2,1637.3 1557.2,1636.5 1558.2,1638.5 1559.2,1639.2 1560.2,1638.1 1561.2,1633.2 1562.2,1640.2 1563.2,1639.7 1564.2,1636.2 1565.2,1639.6 1566.2,1637.5 1567.2,1639.5 1568.2,1641.0 1569.2,1640.4 1570.2,1639.3 1571.2,1641.5 1572.2,1638.9 1573.2,1640.8 1574.2,1639.2 1575.2,1640.8 1576.2,1640.6 1577.2,1640.8 1578.2,1642.6 1579.2,1642.2 1580.2,1646.4 1581.2,1638.8 1582.2,1646.7 1583.2,1640.9 1584.2,1637.8 1585.2,1631.5 1586.2,1638.5 1587.2,1639.6 1588.2,1640.3 1589.2,1642.5 1590.2,1641.7 1591.2,1642.9 1592.2,1642.0 1593.2,1641.9 1594.2,1645.6 1595.2,1640.4 1596.2,1636.8 1597.2,1639.2 1598.2,1638.6 1599.2,1639.6 1600.2,1637.6 1601.2,1642.1 1602.2,1637.4 1603.2,1638.2 1604.2,1636.3 1605.2,1641.6 1606.2,1641.1 1607.2,1642.4 1608.2,1636.3 1609.2,1637.0 1610.2,1641.0 1611.2,1640.3 1612.2,1634.7 1613.2,1637.3 1614.2,1633.2 1615.2,1639.3 1616.2,1639.3 1617.2,1641.0 1618.2,1638.8 1619.2,1636.5 1620.2,1636.1 1621.2,1637.2 1622.2,1635.9 1623.2,1640.8 1624.2,1635.6 1625.2,1635.3 1626.2,1640.9 1627.2,1633.7 1628.2,1633.9 1629.2,1630.9 1630.2,1637.9 1631.2,1634.1 1632.2,1633.5 1633.2,1636.4 1634.2,1636.5 1635.2,1631.3 1636.2,1630.1 1637.2,1635.2 1638.2,1636.9 1639.2,1632.2 1640.2,1633.0 1641.2,1625.5 1642.2,1631.5 1643.2,1628.0 1644.2,1628.8 1645.2,1627.1 1646.2,1631.3 1647.2,1631.4 1648.2,1630.7 1649.2,1631.9 1650.2,1627.4 1651.2,1629.2 1652.2,1628.6 1653.2,1630.5 1654.2,1632.0 1655.2,1628.3 1656.2,1633.2 1657.2,1629.4 1658.2,1628.2 1659.2,1628.6 1660.2,1631.3 1661.2,1621.9 1662.2,1629.5 1663.2,1628.8 1664.2,1629.9 1665.2,1629.3 1666.2,1626.6 1667.2,1627.5 1668.2,1634.7 1669.2,1630.1 1670.2,1633.3 1671.2,1634.3 1672.2,1630.2 1673.2,1633.1 1674.2,1629.5 1675.2,1628.8 1676.2,1631.6 1677.2,1629.0 1678.2,1628.6 1679.2,1629.7 1680.2,1629.4 1681.2,1634.5 1682.2,1632.8 1683.2,1630.9 1684.2,1632.7 1685.2,1628.5 1686.2,1628.6 1687.2,1629.1 1688.2,1630.2 1689.2,1624.1 1690.2,1626.7 1691.2,1628.5 1692.2,1626.7 1693.2,1628.5 1694.2,1626.8 1695.2,1628.8 1696.2,1629.5 1697.2,1629.9 1698.2,1631.5 1699.2,1628.8 1700.2,1629.3 1701.2,1632.4 1702.2,1623.7 1703.2,1630.1 1704.2,1627.4 1705.2,1623.4 1706.2,1633.2 1707.2,1631.2 1708.2,1630.4 1709.2,1632.5 1710.2,1635.4 1711.2,1631.2 1712.2,1630.8 1713.2,1622.5 1714.2,1635.4 1715.2,1632.8 1716.2,1628.4 1717.2,1631.2 1718.2,1630.2 1719.2,1635.9 1720.2,1630.8 1721.2,1629.5 1722.2,1635.1 1723.2,1631.3 1724.2,1629.8 1725.2,1628.5 1726.2,1630.5 1727.2,1632.5 1728.2,1631.6 1729.2,1633.9 1730.2,1636.1 1731.2,1631.1 1732.2,1628.7 1733.2,1635.0 1734.2,1634.6 1735.2,1636.5 1736.2,1631.4 1737.2,1635.2 1738.2,1633.3 1739.2,1632.7 1740.2,1634.1 1741.2,1637.0 1742.2,1636.8 1743.2,1637.1 1744.2,1633.7 1745.2,1635.0 1746.2,1633.3 1747.2,1633.8 1748.2,1637.6 1749.2,1632.6 1750.2,1639.0 1751.2,1640.7 1752.2,1635.6 1753.2,1636.3 1754.2,1641.0 1755.2,1637.2 1756.2,1637.8 1757.2,1637.6 1758.2,1632.3 1759.2,1638.1 1760.2,1637.5 1761.2,1636.0 1762.2,1632.2 1763.2,1636.2 1764.2,1637.2 1765.2,1636.4 1766.2,1637.5 1767.2,1636.8 1768.2,1638.3 1769.2,1641.3 1770.2,1630.9 1771.2,1638.1 1772.2,1639.5 1773.2,1632.1 1774.2,1637.7 1775.2,1639.8 1776.2,1638.9 1777.2,1637.7 1778.2,1637.5 1779.2,1633.2 1780.2,1638.3 1781.2,1640.1 1782.2,1640.0 1783.2,1639.0 1784.2,1637.7 1785.2,1636.3 1786.2,1636.4 1787.2,1635.3 1788.2,1636.3 1789.2,1628.8 1790.2,1636.6 1791.2,1638.2 1792.2,1635.7 1793.2,1638.6 1794.2,1636.4 1795.2,1637.6 1796.2,1644.2 1797.2,1632.8 1798.2,1635.1 1799.2,1633.3 1800.2,1632.7 1801.2,1636.0 1802.2,1626.3 1803.2,1634.9 1804.2,1637.6 1805.2,1633.8 1806.2,1634.7 1807.2,1631.2 1808.2,1634.7 1809.2,1634.7 1810.2,1633.3 1811.2,1636.1 1812.2,1632.7 1813.2,1632.7 1814.2,1625.8 1815.2,1633.8 1816.2,1631.0 1817.2,1632.3 1818.2,1631.2 1819.2,1628.9 1820.2,1630.8 1821.2,1634.4 1822.2,1631.3 1823.2,1627.8 1824.2,1630.6 1825.2,1633.4 1826.2,1624.9 1827.2,1622.0 1828.2,1632.0 1829.2,1630.4 1830.2,1631.2 1831.2,1629.1 1832.2,1630.0 1833.2,1627.5 1834.2,1626.9 1835.2,1629.7 1836.2,1631.5 1837.2,1629.4 1838.2,1623.1 1839.2,1621.1 1840.2,1630.4 1841.2,1628.6 1842.2,1627.6 1843.2,1628.2 1844.2,1632.8 1845.2,1629.5 1846.2,1627.5 1847.2,1628.1 1848.2,1626.3 1849.2,1633.9 1850.2,1630.0 1851.2,1630.1 1852.2,1626.7 1853.2,1629.4 1854.2,1632.1 1855.2,1632.5 1856.2,1630.4 1857.2,1629.7 1858.2,1634.8 1859.2,1630.0 1860.2,1629.6 1861.2,1628.5 1862.2,1630.3 1863.2,1631.9 1864.2,1630.0 1865.2,1631.3 1866.2,1628.7 1867.2,1629.8 1868.2,1627.2 1869.2,1628.3 1870.2,1627.4 1871.2,1627.0 1872.2,1628.3 1873.2,1625.7 1874.2,1626.3 1875.2,1625.3 1876.2,1626.9 1877.2,1623.4 1878.2,1623.2 1879.2,1623.3 1880.2,1621.2 1881.2,1621.1 1882.2,1622.0 1883.2,1617.4 1884.2,1615.8 1885.2,1611.9 1886.2,1610.8 1887.2,1606.8 1888.2,1602.3 1889.2,1596.2 1890.2,1589.2 1891.2,1579.9 1892.2,1569.7 1893.2,1555.3 1894.2,1538.1 1895.2,1518.3 1896.2,1496.3 1897.2,1471.8 1898.2,1445.4 1899.2,1417.9 1900.2,1390.4 1901.2,1364.9 1902.2,1343.6 1903.2,1329.3 1904.3,1323.4 1905.2,1333.5 1906.2,1364.1 1907.2,1407.1 1908.2,1452.3 1909.2,1495.7 1910.2,1533.0 1911.2,1561.7 1912.2,1582.7 1913.2,1598.6 1914.2,1606.8 1915.2,1615.4 1916.2,1619.5 1917.2,1617.1 1918.2,1625.2 1919.2,1625.9 1920.2,1625.4 1921.2,1628.1 1922.2,1631.3 1923.2,1626.1 1924.2,1628.9 1925.2,1628.2 1926.2,1632.9 1927.2,1629.0 1928.2,1629.0 1929.2,1629.1 1930.2,1634.1 1931.2,1630.9 1932.2,1637.4 1933.2,1628.4 1934.2,1633.0 1935.2,1631.0 1936.2,1631.7 1937.2,1631.9 1938.2,1634.0 1939.2,1632.5 1940.2,1633.4 1941.2,1636.5 1942.2,1634.8 1943.2,1626.7 1944.2,1633.5 1945.2,1635.2 1946.2,1634.0 1947.2,1631.9 1948.2,1632.2 1949.2,1634.6 1950.2,1635.8 1951.2,1635.3 1952.2,1634.1 1953.2,1633.4 1954.2,1634.8 1955.2,1638.4 1956.2,1632.5 1957.2,1632.4 1958.2,1632.8 1959.2,1636.3 1960.2,1630.7 1961.2,1635.4 1962.2,1635.4 1963.2,1636.1 1964.2,1636.2 1965.2,1638.7 1966.2,1635.7 1967.2,1634.6 1968.2,1638.4 1969.2,1635.3 1970.2,1634.5 1971.2,1630.9 1972.2,1641.7 1973.2,1637.9 1974.2,1637.7 1975.2,1634.0 1976.2,1639.4 1977.2,1633.4 1978.2,1638.4 1979.2,1639.5 1980.2,1637.3 1981.2,1635.7 1982.2,1643.1 1983.2,1632.8 1984.2,1636.2 1985.2,1637.8 1986.2,1637.9 1987.2,1635.4 1988.2,1636.1 1989.2,1636.8 1990.2,1643.0 1991.2,1645.1 1992.2,1634.0 1993.2,1639.3 1994.2,1636.5 1995.2,1635.6 1996.2,1636.6 1997.2,1632.6 1998.2,1637.9 1999.2,1637.7 2000.2,1635.3 2001.2,1631.3 2002.2,1637.7 2003.2,1642.2 2004.2,1633.6 2005.2,1642.4 2006.2,1636.0 2007.2,1634.2 2008.2,1637.0 2009.2,1636.8 2010.2,1634.6 2011.2,1635.4 2012.2,1633.4 2013.2,1635.2 2014.2,1632.9 2015.2,1633.9 2016.2,1636.0 2017.2,1635.9 2018.2,1634.8 2019.2,1637.2 2020.2,1635.4 2021.2,1634.3 2022.2,1634.6 2023.2,1631.3 2024.2,1629.2 2025.2,1632.5 2026.2,1635.2 2027.2,1640.7 2028.2,1632.3 2029.2,1639.9 2030.2,1635.8 2031.2,1631.7 2032.2,1634.0 2033.2,1632.6 2034.2,1635.1 2035.2,1633.2 2036.2,1633.4 2037.2,1634.1 2038.2,1632.9 2039.2,1635.5 2040.2,1634.3 2041.2,1629.6 2042.2,1634.1 2043.2,1633.6 2044.2,1637.6 2045.2,1638.4 2046.2,1629.8 2047.2,1635.3 2048.2,1634.4 2049.2,1633.9 2050.2,1631.0 2051.2,1636.8 2052.2,1634.5 2053.2,1634.5 2054.2,1638.8 2055.2,1631.1 2056.2,1633.4 2057.2,1628.8 2058.2,1632.8 2059.2,1642.5 2060.2,1633.4 2061.2,1635.9 2062.2,1636.3 2063.2,1634.1 2064.2,1636.0 2065.2,1632.3 2066.2,1630.3 2067.2,1632.2 2068.2,1630.8 2069.2,1630.8 2070.2,1629.4 2071.2,1630.2 2072.2,1631.0 2073.2,1634.1 2074.2,1632.9 2075.2,1641.7 2076.2,1634.5 2077.2,1637.8 2078.2,1635.1 2079.2,1636.9 2080.2,1638.1 2081.2,1633.4 2082.2,1632.5 2083.2,1630.4 2084.2,1638.9 2085.2,1632.5 2086.2,1640.2 2087.2,1635.1 2088.2,1635.8 2089.2,1628.9 2090.2,1637.2 2091.2,1630.5 2092.2,1635.8 2093.2,1628.9 2094.2,1638.3 2095.2,1629.8 2096.2,1631.8 2097.2,1633.7 2098.2,1631.9 2099.2,1631.1 2100.2,1633.3 2101.2,1629.8 2102.2,1634.3" fill="none" stroke="#111" stroke-width="1.8" stroke-linejoin="miter"/>
<g><rect x="278.20" y="82.60" width="1827.80" height="2.40" fill="#ababab"/><rect x="278.20" y="85.00" width="1827.80" height="2.90" fill="#000"/><rect x="283.50" y="87.90" width="1817.40" height="2.80" fill="#d2d2d2"/><rect x="278.20" y="1706.00" width="1827.80" height="2.60" fill="#000"/><rect x="278.20" y="1708.60" width="1827.80" height="3.00" fill="#1c1c1c"/><rect x="278.20" y="85.00" width="2.50" height="1652.00" fill="#000"/><rect x="280.70" y="85.00" width="2.60" height="1652.00" fill="#1a1a1a"/><rect x="2100.90" y="85.00" width="2.10" height="1652.00" fill="#4a4a4a"/><rect x="2103.00" y="82.60" width="3.00" height="1654.40" fill="#000"/><rect x="251.00" y="142.80" width="27.20" height="2.30" fill="#9c9c9c"/><rect x="251.00" y="145.10" width="27.20" height="2.60" fill="#000"/><rect x="251.00" y="147.70" width="27.20" height="2.80" fill="#dadada"/><rect x="251.00" y="443.24" width="27.20" height="2.30" fill="#9c9c9c"/><rect x="251.00" y="445.54" width="27.20" height="2.60" fill="#000"/><rect x="251.00" y="448.14" width="27.20" height="2.80" fill="#dadada"/><rect x="251.00" y="743.68" width="27.20" height="2.30" fill="#9c9c9c"/><rect x="251.00" y="745.98" width="27.20" height="2.60" fill="#000"/><rect x="251.00" y="748.58" width="27.20" height="2.80" fill="#dadada"/><rect x="251.00" y="1044.12" width="27.20" height="2.30" fill="#9c9c9c"/><rect x="251.00" y="1046.42" width="27.20" height="2.60" fill="#000"/><rect x="251.00" y="1049.02" width="27.20" height="2.80" fill="#dadada"/><rect x="251.00" y="1344.56" width="27.20" height="2.30" fill="#9c9c9c"/><rect x="251.00" y="1346.86" width="27.20" height="2.60" fill="#000"/><rect x="251.00" y="1349.46" width="27.20" height="2.80" fill="#dadada"/><rect x="251.00" y="1645.00" width="27.20" height="2.30" fill="#9c9c9c"/><rect x="251.00" y="1647.30" width="27.20" height="2.60" fill="#000"/><rect x="251.00" y="1649.90" width="27.20" height="2.80" fill="#dadada"/><rect x="264.30" y="293.00" width="13.90" height="2.30" fill="#9c9c9c"/><rect x="264.30" y="295.30" width="13.90" height="2.60" fill="#000"/><rect x="264.30" y="297.90" width="13.90" height="2.80" fill="#dadada"/><rect x="264.30" y="593.44" width="13.90" height="2.30" fill="#9c9c9c"/><rect x="264.30" y="595.74" width="13.90" height="2.60" fill="#000"/><rect x="264.30" y="598.34" width="13.90" height="2.80" fill="#dadada"/><rect x="264.30" y="893.88" width="13.90" height="2.30" fill="#9c9c9c"/><rect x="264.30" y="896.18" width="13.90" height="2.60" fill="#000"/><rect x="264.30" y="898.78" width="13.90" height="2.80" fill="#dadada"/><rect x="264.30" y="1194.32" width="13.90" height="2.30" fill="#9c9c9c"/><rect x="264.30" y="1196.62" width="13.90" height="2.60" fill="#000"/><rect x="264.30" y="1199.22" width="13.90" height="2.80" fill="#dadada"/><rect x="264.30" y="1494.76" width="13.90" height="2.30" fill="#9c9c9c"/><rect x="264.30" y="1497.06" width="13.90" height="2.60" fill="#000"/><rect x="264.30" y="1499.66" width="13.90" height="2.80" fill="#dadada"/><rect x="733.80" y="1711.60" width="5.20" height="24.90" fill="#000"/><rect x="733.80" y="1736.50" width="5.20" height="2.00" fill="#808080"/><rect x="1189.50" y="1711.60" width="5.20" height="24.90" fill="#000"/><rect x="1189.50" y="1736.50" width="5.20" height="2.00" fill="#808080"/><rect x="1645.20" y="1711.60" width="5.20" height="24.90" fill="#000"/><rect x="1645.20" y="1736.50" width="5.20" height="2.00" fill="#808080"/><rect x="506.75" y="1711.60" width="2.30" height="11.90" fill="#000"/><rect x="509.05" y="1711.60" width="3.10" height="11.90" fill="#6a6a6a"/><rect x="962.45" y="1711.60" width="2.30" height="11.90" fill="#000"/><rect x="964.75" y="1711.60" width="3.10" height="11.90" fill="#6a6a6a"/><rect x="1418.15" y="1711.60" width="2.30" height="11.90" fill="#000"/><rect x="1420.45" y="1711.60" width="3.10" height="11.90" fill="#6a6a6a"/><rect x="1873.85" y="1711.60" width="2.30" height="11.90" fill="#000"/><rect x="1876.15" y="1711.60" width="3.10" height="11.90" fill="#6a6a6a"/><rect x="278.20" y="1737.00" width="3.00" height="2.00" fill="#7a7a7a"/><rect x="2103.00" y="1737.00" width="3.00" height="2.00" fill="#7a7a7a"/></g>
<text x="280.7" y="1808.5" text-anchor="middle" font-family="'Liberation Serif',serif" font-weight="bold" font-size="73">20</text>
<text x="736.4" y="1808.5" text-anchor="middle" font-family="'Liberation Serif',serif" font-weight="bold" font-size="73">40</text>
<text x="1192.1" y="1808.5" text-anchor="middle" font-family="'Liberation Serif',serif" font-weight="bold" font-size="73">60</text>
<text x="1647.8" y="1808.5" text-anchor="middle" font-family="'Liberation Serif',serif" font-weight="bold" font-size="73">80</text>
<text x="2103.5" y="1808.5" text-anchor="middle" font-family="'Liberation Serif',serif" font-weight="bold" font-size="73">100</text>
<text x="573" y="1962" font-family="'Liberation Serif',serif" font-weight="bold" font-size="104">Diffraction angle 2q /degree</text>
<text transform="translate(144,1268) rotate(-90)" x="0" y="0" font-family="'Liberation Serif',serif" font-weight="bold" font-size="104">Intensity /a.u.</text>
<circle cx="355.8" cy="177.8" r="12.5" fill="#000"/>
<text x="385.9" y="201.2" font-family="'DejaVu Sans',sans-serif" font-style="oblique" font-size="61.6" stroke="#000" stroke-width="0.9">γ</text>
<text y="199.6" font-family="'Liberation Serif',serif" font-weight="bold" font-size="73"><tspan x="421.9" y="201" font-size="82">-</tspan><tspan x="448.7" y="199.6">Ni(Cr, Mo)</tspan></text>
<text transform="translate(399.5,532.5) scale(1,1.045)" font-family="'Liberation Serif',serif" font-weight="bold" font-size="72">Cr26</text>
<text transform="translate(397.5,936) scale(1,1.045)" font-family="'Liberation Serif',serif" font-weight="bold" font-size="72">Cr22</text>
<text transform="translate(403,1596.5) scale(1,1.045)" font-family="'Liberation Serif',serif" font-weight="bold" font-size="72">Cr18</text>
<circle cx="815" cy="472" r="12.5" fill="#000"/>
<circle cx="979" cy="134.6" r="12.5" fill="#000"/>
<circle cx="1527" cy="197.3" r="12.5" fill="#000"/>
<circle cx="1893.3" cy="221.4" r="12.5" fill="#000"/>
<circle cx="816.9" cy="901.1" r="12.5" fill="#000"/>
<circle cx="986.2" cy="622.7" r="12.5" fill="#000"/>
<circle cx="1530" cy="596.7" r="12.5" fill="#000"/>
<circle cx="1897.7" cy="735" r="12.5" fill="#000"/>
<circle cx="825" cy="1517.7" r="12.5" fill="#000"/>
<circle cx="988.6" cy="1006.5" r="12.5" fill="#000"/>
<circle cx="1541.5" cy="1280" r="12.5" fill="#000"/>
<circle cx="1905.2" cy="1275.2" r="12.5" fill="#000"/>
</svg></body></html>
